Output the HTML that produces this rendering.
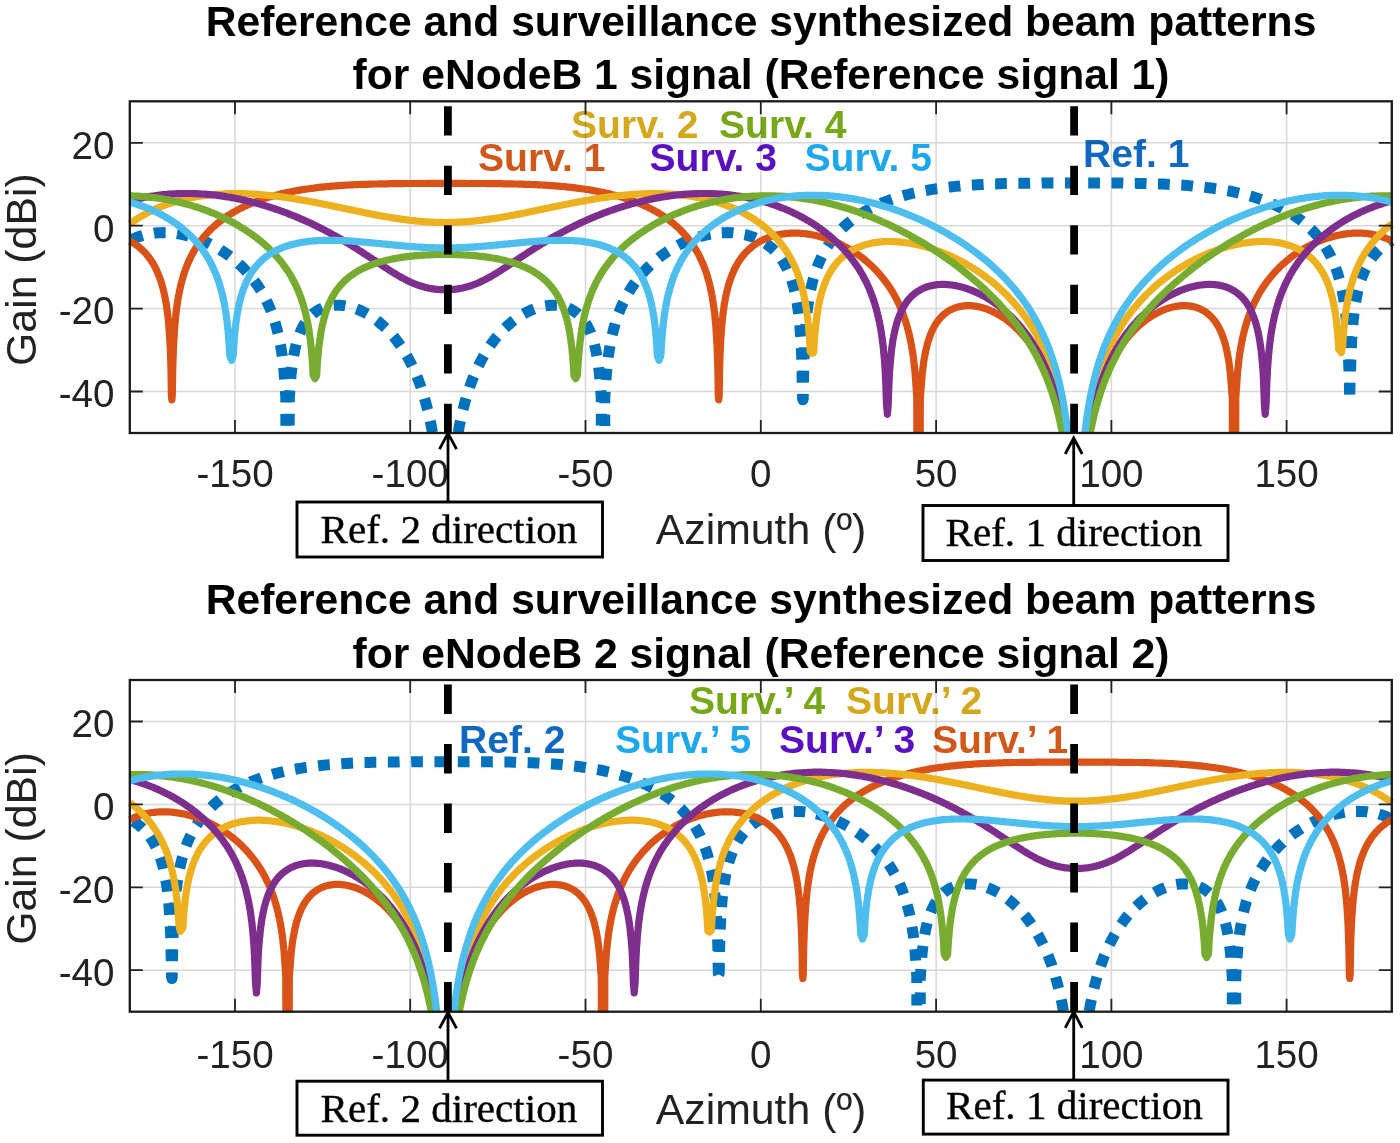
<!DOCTYPE html>
<html lang="en"><head><meta charset="utf-8"><title>Beam patterns</title>
<style>html,body{margin:0;padding:0;background:#fff}svg{display:block}</style></head>
<body>
<svg width="1400" height="1143" viewBox="0 0 1400 1143">
<rect width="100%" height="100%" fill="#fff"/>
<defs>
<clipPath id="cp0"><rect x="126.80000000000001" y="98.3" width="1268.0" height="335.7"/></clipPath>
<clipPath id="cp1"><rect x="126.80000000000001" y="677.0" width="1268.0" height="335.7"/></clipPath>
</defs>
<text x="571" y="137.5" font-family='"Liberation Sans", sans-serif' font-weight="700" font-size="39.1" fill="#D4A71C">Surv. 2</text>
<text x="719" y="137.5" font-family='"Liberation Sans", sans-serif' font-weight="700" font-size="39.1" fill="#77A81A">Surv. 4</text>
<text x="478" y="171" font-family='"Liberation Sans", sans-serif' font-weight="700" font-size="39.1" fill="#D2571A">Surv. 1</text>
<text x="649.5" y="171" font-family='"Liberation Sans", sans-serif' font-weight="700" font-size="39.1" fill="#5A10C0">Surv. 3</text>
<text x="804.5" y="171" font-family='"Liberation Sans", sans-serif' font-weight="700" font-size="39.1" fill="#1DA8EE">Surv. 5</text>
<text x="1083" y="167" font-family='"Liberation Sans", sans-serif' font-weight="700" font-size="39.1" fill="#1068C0">Ref. 1</text>
<text x="689" y="714" font-family='"Liberation Sans", sans-serif' font-weight="700" font-size="39.1" fill="#77A81A">Surv.’ 4</text>
<text x="846" y="714" font-family='"Liberation Sans", sans-serif' font-weight="700" font-size="39.1" fill="#D4A71C">Surv.’ 2</text>
<text x="459" y="753" font-family='"Liberation Sans", sans-serif' font-weight="700" font-size="39.1" fill="#1068C0">Ref. 2</text>
<text x="615" y="753" font-family='"Liberation Sans", sans-serif' font-weight="700" font-size="39.1" fill="#1DA8EE">Surv.’ 5</text>
<text x="779" y="753" font-family='"Liberation Sans", sans-serif' font-weight="700" font-size="39.1" fill="#5A10C0">Surv.’ 3</text>
<text x="932" y="753" font-family='"Liberation Sans", sans-serif' font-weight="700" font-size="39.1" fill="#D2571A">Surv.’ 1</text>
<text x="761" y="35.9" text-anchor="middle" font-family='"Liberation Sans", sans-serif' font-weight="700" font-size="42.62" fill="#000">Reference and surveillance synthesized beam patterns</text>
<text x="761" y="89.2" text-anchor="middle" font-family='"Liberation Sans", sans-serif' font-weight="700" font-size="42.62" fill="#000">for eNodeB 1 signal (Reference signal 1)</text>
<path d="M235.0,101.3V433.0M410.2,101.3V433.0M585.5,101.3V433.0M760.8,101.3V433.0M936.1,101.3V433.0M1111.4,101.3V433.0M1286.6,101.3V433.0M129.8,142.8H1391.8M129.8,225.7H1391.8M129.8,308.6H1391.8M129.8,391.5H1391.8" stroke="#d8d8d8" stroke-width="1.5" fill="none" style="mix-blend-mode:multiply"/>
<g clip-path="url(#cp0)" fill="none" stroke-linejoin="round" stroke-linecap="butt">
<path d="M287.6,464.5 285.9,464.5 285.8,397.2 284,371.5 282.3,356.2 280.5,345.2 278.8,336.5 277,329.3 275.3,323.1 273.5,317.7 271.8,312.9 270,308.5 268.3,304.5 266.5,300.8 264.8,297.4 263,294.2 261.3,291.2 259.5,288.4 257.8,285.7 256,283.2 254.2,280.8 252.5,278.5 250.7,276.3 249,274.3 247.2,272.3 245.5,270.4 243.7,268.5 242,266.8 240.2,265.1 238.5,263.5 236.7,261.9 235,260.4 233.2,259 231.5,257.6 229.7,256.2 228,254.9 226.2,253.7 224.4,252.5 222.7,251.3 220.9,250.2 219.2,249.1 217.4,248.1 215.7,247.1 213.9,246.1 212.2,245.2 210.4,244.3 208.7,243.4 206.9,242.6 205.2,241.8 203.4,241.1 201.7,240.4 199.9,239.7 198.2,239 196.4,238.4 194.7,237.8 192.9,237.3 191.1,236.7 189.4,236.2 187.6,235.8 185.9,235.4 184.1,235 182.4,234.6 180.6,234.2 178.9,233.9 177.1,233.7 175.4,233.4 173.6,233.2 171.9,233 170.1,232.9 168.4,232.8 166.6,232.7 164.9,232.7 163.1,232.6 161.4,232.7 159.6,232.7 157.8,232.8 156.1,233 154.3,233.1 152.6,233.4 150.8,233.6 149.1,233.9 147.3,234.3 145.6,234.6 143.8,235.1 142.1,235.6 140.3,236.1 138.6,236.7 136.8,237.3 135.1,238 133.3,238.8 131.6,239.6 129.8,240.5" stroke="#0072BD" stroke-width="11" stroke-dasharray="11.70 11.50" stroke-dashoffset="5.85"/>
<path d="M287.6,464.5 289.2,464.5 289.3,398.6 291.1,374.4 292.8,360.6 294.6,351 296.3,343.8 298.1,338 299.8,333.3 301.6,329.4 303.3,326 305.1,323.1 306.8,320.6 308.6,318.3 310.3,316.4 312.1,314.7 313.8,313.2 315.6,311.8 317.3,310.7 319.1,309.6 320.9,308.8 322.6,308 324.4,307.3 326.1,306.7 327.9,306.3 329.6,305.9 331.4,305.6 333.1,305.4 334.9,305.3 336.6,305.2 338.4,305.2 340.1,305.3 341.9,305.4 343.6,305.6 345.4,305.9 347.1,306.2 348.9,306.6 350.6,307 352.4,307.5 354.2,308.1 355.9,308.7 357.7,309.4 359.4,310.1 361.2,310.9 362.9,311.7 364.7,312.6 366.4,313.6 368.2,314.6 369.9,315.6 371.7,316.8 373.4,318 375.2,319.2 376.9,320.5 378.7,321.9 380.4,323.4 382.2,324.9 384,326.5 385.7,328.1 387.5,329.9 389.2,331.7 391,333.6 392.7,335.6 394.5,337.7 396.2,339.9 398,342.2 399.7,344.6 401.5,347.2 403.2,349.8 405,352.6 406.7,355.6 408.5,358.7 410.2,362 412,365.5 413.8,369.2 415.5,373.1 417.3,377.3 419,381.8 420.8,386.6 422.5,391.8 424.3,397.4 426,403.5 427.8,410.3 429.5,417.8 431.3,426.2 433,435.7 434.8,446.8 436.5,459.8 437,464.5 445.3,464.5" stroke="#0072BD" stroke-width="11" stroke-dasharray="11.74 11.54" stroke-dashoffset="5.87"/>
<path d="M445.3,464.5 453.6,464.5 454.1,459.8 455.8,446.8 457.6,435.7 459.3,426.2 461.1,417.8 462.8,410.3 464.6,403.5 466.3,397.4 468.1,391.8 469.8,386.6 471.6,381.8 473.3,377.3 475.1,373.1 476.8,369.2 478.6,365.5 480.4,362 482.1,358.7 483.9,355.6 485.6,352.6 487.4,349.8 489.1,347.2 490.9,344.6 492.6,342.2 494.4,339.9 496.1,337.7 497.9,335.6 499.6,333.6 501.4,331.7 503.1,329.9 504.9,328.1 506.6,326.5 508.4,324.9 510.2,323.4 511.9,321.9 513.7,320.5 515.4,319.2 517.2,318 518.9,316.8 520.7,315.6 522.4,314.6 524.2,313.6 525.9,312.6 527.7,311.7 529.4,310.9 531.2,310.1 532.9,309.4 534.7,308.7 536.4,308.1 538.2,307.5 540,307 541.7,306.6 543.5,306.2 545.2,305.9 547,305.6 548.7,305.4 550.5,305.3 552.2,305.2 554,305.2 555.7,305.3 557.5,305.4 559.2,305.6 561,305.9 562.7,306.3 564.5,306.7 566.2,307.3 568,308 569.7,308.8 571.5,309.6 573.3,310.7 575,311.8 576.8,313.2 578.5,314.7 580.3,316.4 582,318.3 583.8,320.6 585.5,323.1 587.3,326 589,329.4 590.8,333.3 592.5,338 594.3,343.8 596,351 597.8,360.6 599.5,374.4 601.3,398.6 601.4,464.5 603,464.5" stroke="#0072BD" stroke-width="11" stroke-dasharray="11.74 11.54" stroke-dashoffset="5.87"/>
<path d="M603,464.5 604.7,464.5 604.8,397.2 606.6,371.5 608.3,356.2 610.1,345.2 611.8,336.5 613.6,329.3 615.3,323.1 617.1,317.7 618.8,312.9 620.6,308.5 622.3,304.5 624.1,300.8 625.8,297.4 627.6,294.2 629.3,291.2 631.1,288.4 632.8,285.7 634.6,283.2 636.4,280.8 638.1,278.5 639.9,276.3 641.6,274.3 643.4,272.3 645.1,270.4 646.9,268.5 648.6,266.8 650.4,265.1 652.1,263.5 653.9,261.9 655.6,260.4 657.4,259 659.1,257.6 660.9,256.2 662.6,254.9 664.4,253.7 666.2,252.5 667.9,251.3 669.7,250.2 671.4,249.1 673.2,248.1 674.9,247.1 676.7,246.1 678.4,245.2 680.2,244.3 681.9,243.4 683.7,242.6 685.4,241.8 687.2,241.1 688.9,240.4 690.7,239.7 692.4,239 694.2,238.4 695.9,237.8 697.7,237.3 699.5,236.7 701.2,236.2 703,235.8 704.7,235.4 706.5,235 708.2,234.6 710,234.2 711.7,233.9 713.5,233.7 715.2,233.4 717,233.2 718.7,233 720.5,232.9 722.2,232.8 724,232.7 725.7,232.7 727.5,232.6 729.2,232.7 731,232.7 732.8,232.8 734.5,233 736.3,233.1 738,233.4 739.8,233.6 741.5,233.9 743.3,234.3 745,234.6 746.8,235.1 748.5,235.6 750.3,236.1 752,236.7 753.8,237.3 755.5,238 757.3,238.8 759,239.6 760.8,240.5 762.6,241.5 764.3,242.5 766.1,243.7 767.8,244.9 769.6,246.3 771.3,247.7 773.1,249.3 774.8,251 776.6,252.9 778.3,254.9 780.1,257.1 781.8,259.6 783.6,262.3 785.3,265.3 787.1,268.7 788.8,272.6 790.6,277 792.3,282.2 794.1,288.4 794.5,290.2 795,292.1 795.4,294 795.9,296.1 796.3,298.4 796.7,300.8 797.2,303.4 797.6,306.2 798,309.2 798.5,312.6 798.9,316.3 799.4,320.4 799.8,325.2 800.2,330.7 800.7,337.1 801.1,345.1 801.6,355.4 802,369.9 802.4,394.8 802.9,399.8" stroke="#0072BD" stroke-width="11" stroke-dasharray="11.57 11.38" stroke-dashoffset="5.79"/>
<path d="M802.9,399.8 803.3,394.7 803.7,369.6 804.2,354.9 804.6,344.5 805.1,336.4 805.5,329.8 805.9,324.1 806.4,319.3 806.8,315 807.2,311.1 807.7,307.6 808.1,304.4 808.6,301.5 809,298.7 809.4,296.2 809.9,293.8 810.3,291.5 810.8,289.4 811.2,287.4 811.6,285.5 813.4,278.7 815.1,272.9 816.9,267.9 818.6,263.4 820.4,259.4 822.1,255.8 823.9,252.5 825.7,249.4 827.4,246.6 829.2,243.9 830.9,241.5 832.7,239.1 834.4,236.9 836.2,234.9 837.9,232.9 839.7,231 841.4,229.3 843.2,227.6 844.9,225.9 846.7,224.4 848.4,222.9 850.2,221.5 851.9,220.1 853.7,218.8 855.4,217.6 857.2,216.4 859,215.2 860.7,214.1 862.5,213 864.2,211.9 866,210.9 867.7,209.9 869.5,209 871.2,208.1 873,207.2 874.7,206.4 876.5,205.5 878.2,204.7 880,204 881.7,203.2 883.5,202.5 885.2,201.8 887,201.1 888.8,200.5 890.5,199.8 892.3,199.2 894,198.6 895.8,198 897.5,197.5 899.3,196.9 901,196.4 902.8,195.9 904.5,195.4 906.3,194.9 908,194.5 909.8,194 911.5,193.6 913.3,193.2 915,192.8 916.8,192.4 918.6,192 920.3,191.6 922.1,191.3 923.8,190.9 925.6,190.6 927.3,190.3 929.1,190 930.8,189.7 932.6,189.4 934.3,189.1 936.1,188.8 937.8,188.6 939.6,188.3 941.3,188.1 943.1,187.8 944.8,187.6 946.6,187.4 948.3,187.2 950.1,187 951.9,186.8 953.6,186.6 955.4,186.4 957.1,186.2 958.9,186.1 960.6,185.9 962.4,185.8 964.1,185.6 965.9,185.5 967.6,185.3 969.4,185.2 971.1,185.1 972.9,185 974.6,184.9 976.4,184.8 978.1,184.7 979.9,184.6 981.6,184.5 983.4,184.4 985.2,184.3 986.9,184.2 988.7,184.1 990.4,184.1 992.2,184 993.9,183.9 995.7,183.9 997.4,183.8 999.2,183.7 1000.9,183.7 1002.7,183.6 1004.4,183.6 1006.2,183.5 1007.9,183.5 1009.7,183.5 1011.4,183.4 1013.2,183.4 1015,183.4 1016.7,183.3 1018.5,183.3 1020.2,183.3 1022,183.2 1023.7,183.2 1025.5,183.2 1027.2,183.2 1029,183.2 1030.7,183.1 1032.5,183.1 1034.2,183.1 1036,183.1 1037.7,183.1 1039.5,183.1 1041.2,183.1 1043,183 1044.8,183 1046.5,183 1048.3,183 1050,183 1051.8,183 1053.5,183 1055.3,183 1057,183 1058.8,183 1060.5,183 1062.3,183 1064,183 1065.8,183 1067.5,183 1069.3,183 1071,183 1072.8,183 1074.5,183 1076.3,183 1078.1,183 1079.8,183 1081.6,183 1083.3,183 1085.1,183 1086.8,183 1088.6,183 1090.3,183 1092.1,183 1093.8,183 1095.6,183 1097.3,183 1099.1,183 1100.8,183 1102.6,183 1104.3,183 1106.1,183 1107.8,183 1109.6,183 1111.4,183.1 1113.1,183.1 1114.9,183.1 1116.6,183.1 1118.4,183.1 1120.1,183.1 1121.9,183.1 1123.6,183.2 1125.4,183.2 1127.1,183.2 1128.9,183.2 1130.6,183.2 1132.4,183.3 1134.1,183.3 1135.9,183.3 1137.6,183.4 1139.4,183.4 1141.2,183.4 1142.9,183.5 1144.7,183.5 1146.4,183.5 1148.2,183.6 1149.9,183.6 1151.7,183.7 1153.4,183.7 1155.2,183.8 1156.9,183.9 1158.7,183.9 1160.4,184 1162.2,184.1 1163.9,184.1 1165.7,184.2 1167.4,184.3 1169.2,184.4 1171,184.5 1172.7,184.6 1174.5,184.7 1176.2,184.8 1178,184.9 1179.7,185 1181.5,185.1 1183.2,185.2 1185,185.3 1186.7,185.5 1188.5,185.6 1190.2,185.8 1192,185.9 1193.7,186.1 1195.5,186.2 1197.2,186.4 1199,186.6 1200.7,186.8 1202.5,187 1204.3,187.2 1206,187.4 1207.8,187.6 1209.5,187.8 1211.3,188.1 1213,188.3 1214.8,188.6 1216.5,188.8 1218.3,189.1 1220,189.4 1221.8,189.7 1223.5,190 1225.3,190.3 1227,190.6 1228.8,190.9 1230.5,191.3 1232.3,191.6 1234,192 1235.8,192.4 1237.6,192.8 1239.3,193.2 1241.1,193.6 1242.8,194 1244.6,194.5 1246.3,194.9 1248.1,195.4 1249.8,195.9 1251.6,196.4 1253.3,196.9 1255.1,197.5 1256.8,198 1258.6,198.6 1260.3,199.2 1262.1,199.8 1263.8,200.5 1265.6,201.1 1267.4,201.8 1269.1,202.5 1270.9,203.2 1272.6,204 1274.4,204.7 1276.1,205.5 1277.9,206.4 1279.6,207.2 1281.4,208.1 1283.1,209 1284.9,209.9 1286.6,210.9 1288.4,211.9 1290.1,213 1291.9,214.1 1293.6,215.2 1295.4,216.4 1297.1,217.6 1298.9,218.8 1300.7,220.1 1302.4,221.5 1304.2,222.9 1305.9,224.4 1307.7,225.9 1309.4,227.6 1311.2,229.3 1312.9,231 1314.7,232.9 1316.4,234.9 1318.2,236.9 1319.9,239.1 1321.7,241.5 1323.4,243.9 1325.2,246.6 1326.9,249.4 1328.7,252.5 1330.5,255.8 1332.2,259.4 1334,263.4 1335.7,267.9 1337.5,272.9 1339.2,278.7 1341,285.5 1341.4,287.4 1341.8,289.4 1342.3,291.5 1342.7,293.8 1343.2,296.2 1343.6,298.7 1344,301.5 1344.5,304.4 1344.9,307.6 1345.4,311.1 1345.8,315 1346.2,319.3 1346.7,324.1 1347.1,329.8 1347.5,336.4 1348,344.5 1348.4,354.9 1348.9,369.6 1349.7,394.4" stroke="#0072BD" stroke-width="11" stroke-dasharray="11.74 11.54" stroke-dashoffset="5.87"/>
<path d="M1349.7,394.4 1350.6,369.9 1351,355.4 1351.5,345.1 1351.9,337.1 1352.4,330.7 1352.8,325.2 1353.2,320.4 1353.7,316.3 1354.1,312.6 1354.6,309.2 1355,306.2 1355.4,303.4 1355.9,300.8 1356.3,298.4 1356.7,296.1 1357.2,294 1357.6,292.1 1358.1,290.2 1358.5,288.4 1360.2,282.2 1362,277 1363.8,272.6 1365.5,268.7 1367.3,265.3 1369,262.3 1370.8,259.6 1372.5,257.1 1374.3,254.9 1376,252.9 1377.8,251 1379.5,249.3 1381.3,247.7 1383,246.3 1384.8,244.9 1386.5,243.7 1388.3,242.5 1390,241.5 1391.8,240.5" stroke="#0072BD" stroke-width="11" stroke-dasharray="11.70 11.50" stroke-dashoffset="0.00"/>
<circle cx="802.9" cy="399.8" r="5.5" fill="#0072BD" stroke="none"/>
<path d="M129.8,241 131.6,241.9 133.3,243 135.1,244.1 136.8,245.4 138.6,246.7 140.3,248.2 142.1,249.8 143.8,251.5 145.6,253.3 147.3,255.4 149.1,257.6 150.8,260 152.6,262.8 154.3,265.8 156.1,269.2 157.8,273.1 159.6,277.5 161.4,282.7 163.1,288.9 163.5,290.7 164,292.5 164.4,294.5 164.9,296.6 165.3,298.8 165.7,301.2 166.2,303.8 166.6,306.6 167,309.7 167.5,313 167.9,316.7 168.4,320.9 168.8,325.6 169.2,331.1 169.7,337.6 170.1,345.6 170.6,355.8 171,370.4 171.4,395.3 171.9,399.8 172.3,395.1 172.7,370.1 173.2,355.4 173.6,345 174.1,336.9 174.5,330.2 174.9,324.6 175.4,319.7 175.8,315.4 176.2,311.6 176.7,308.1 177.1,304.9 177.6,301.9 178,299.2 178.4,296.6 178.9,294.2 179.3,292 179.8,289.9 180.2,287.9 180.6,285.9 182.4,279.1 184.1,273.4 185.9,268.3 187.6,263.9 189.4,259.9 191.1,256.2 192.9,252.9 194.7,249.9 196.4,247 198.2,244.4 199.9,241.9 201.7,239.6 203.4,237.4 205.2,235.3 206.9,233.4 208.7,231.5 210.4,229.7 212.2,228 213.9,226.4 215.7,224.9 217.4,223.4 219.2,222 220.9,220.6 222.7,219.3 224.4,218 226.2,216.8 228,215.6 229.7,214.5 231.5,213.4 233.2,212.4 235,211.4 236.7,210.4 238.5,209.5 240.2,208.5 242,207.7 243.7,206.8 245.5,206 247.2,205.2 249,204.4 250.7,203.7 252.5,203 254.2,202.3 256,201.6 257.8,200.9 259.5,200.3 261.3,199.7 263,199.1 264.8,198.5 266.5,197.9 268.3,197.4 270,196.9 271.8,196.4 273.5,195.9 275.3,195.4 277,194.9 278.8,194.5 280.5,194 282.3,193.6 284,193.2 285.8,192.8 287.6,192.4 289.3,192.1 291.1,191.7 292.8,191.4 294.6,191 296.3,190.7 298.1,190.4 299.8,190.1 301.6,189.8 303.3,189.5 305.1,189.3 306.8,189 308.6,188.8 310.3,188.5 312.1,188.3 313.8,188.1 315.6,187.8 317.3,187.6 319.1,187.4 320.9,187.2 322.6,187.1 324.4,186.9 326.1,186.7 327.9,186.5 329.6,186.4 331.4,186.2 333.1,186.1 334.9,185.9 336.6,185.8 338.4,185.7 340.1,185.6 341.9,185.4 343.6,185.3 345.4,185.2 347.1,185.1 348.9,185 350.6,184.9 352.4,184.8 354.2,184.7 355.9,184.7 357.7,184.6 359.4,184.5 361.2,184.4 362.9,184.4 364.7,184.3 366.4,184.3 368.2,184.2 369.9,184.1 371.7,184.1 373.4,184 375.2,184 376.9,184 378.7,183.9 380.4,183.9 382.2,183.8 384,183.8 385.7,183.8 387.5,183.8 389.2,183.7 391,183.7 392.7,183.7 394.5,183.7 396.2,183.6 398,183.6 399.7,183.6 401.5,183.6 403.2,183.6 405,183.5 406.7,183.5 408.5,183.5 410.2,183.5 412,183.5 413.8,183.5 415.5,183.5 417.3,183.5 419,183.5 420.8,183.5 422.5,183.5 424.3,183.5 426,183.4 427.8,183.4 429.5,183.4 431.3,183.4 433,183.4 434.8,183.4 436.5,183.4 438.3,183.4 440,183.4 441.8,183.4 443.5,183.4 445.3,183.4 447.1,183.4 448.8,183.4 450.6,183.4 452.3,183.4 454.1,183.4 455.8,183.4 457.6,183.4 459.3,183.4 461.1,183.4 462.8,183.4 464.6,183.4 466.3,183.5 468.1,183.5 469.8,183.5 471.6,183.5 473.3,183.5 475.1,183.5 476.8,183.5 478.6,183.5 480.4,183.5 482.1,183.5 483.9,183.5 485.6,183.5 487.4,183.6 489.1,183.6 490.9,183.6 492.6,183.6 494.4,183.6 496.1,183.7 497.9,183.7 499.6,183.7 501.4,183.7 503.1,183.8 504.9,183.8 506.6,183.8 508.4,183.8 510.2,183.9 511.9,183.9 513.7,184 515.4,184 517.2,184 518.9,184.1 520.7,184.1 522.4,184.2 524.2,184.3 525.9,184.3 527.7,184.4 529.4,184.4 531.2,184.5 532.9,184.6 534.7,184.7 536.4,184.7 538.2,184.8 540,184.9 541.7,185 543.5,185.1 545.2,185.2 547,185.3 548.7,185.4 550.5,185.6 552.2,185.7 554,185.8 555.7,185.9 557.5,186.1 559.2,186.2 561,186.4 562.7,186.5 564.5,186.7 566.2,186.9 568,187.1 569.7,187.2 571.5,187.4 573.3,187.6 575,187.8 576.8,188.1 578.5,188.3 580.3,188.5 582,188.8 583.8,189 585.5,189.3 587.3,189.5 589,189.8 590.8,190.1 592.5,190.4 594.3,190.7 596,191 597.8,191.4 599.5,191.7 601.3,192.1 603,192.4 604.8,192.8 606.6,193.2 608.3,193.6 610.1,194 611.8,194.5 613.6,194.9 615.3,195.4 617.1,195.9 618.8,196.4 620.6,196.9 622.3,197.4 624.1,197.9 625.8,198.5 627.6,199.1 629.3,199.7 631.1,200.3 632.8,200.9 634.6,201.6 636.4,202.3 638.1,203 639.9,203.7 641.6,204.4 643.4,205.2 645.1,206 646.9,206.8 648.6,207.7 650.4,208.5 652.1,209.5 653.9,210.4 655.6,211.4 657.4,212.4 659.1,213.4 660.9,214.5 662.6,215.6 664.4,216.8 666.2,218 667.9,219.3 669.7,220.6 671.4,222 673.2,223.4 674.9,224.9 676.7,226.4 678.4,228 680.2,229.7 681.9,231.5 683.7,233.4 685.4,235.3 687.2,237.4 688.9,239.6 690.7,241.9 692.4,244.4 694.2,247 695.9,249.9 697.7,252.9 699.5,256.2 701.2,259.9 703,263.9 704.7,268.3 706.5,273.4 708.2,279.1 710,285.9 710.4,287.9 710.8,289.9 711.3,292 711.7,294.2 712.2,296.6 712.6,299.2 713,301.9 713.5,304.9 713.9,308.1 714.4,311.6 714.8,315.4 715.2,319.7 715.7,324.6 716.1,330.2 716.5,336.9 717,345 717.4,355.4 717.9,370.1 718.3,395.1 718.7,399.8 719.2,395.3 719.6,370.4 720,355.8 720.5,345.6 720.9,337.6 721.4,331.1 721.8,325.6 722.2,320.9 722.7,316.7 723.1,313 723.6,309.7 724,306.6 724.4,303.8 724.9,301.2 725.3,298.8 725.7,296.6 726.2,294.5 726.6,292.5 727.1,290.7 727.5,288.9 729.2,282.7 731,277.5 732.8,273.1 734.5,269.2 736.3,265.8 738,262.8 739.8,260 741.5,257.6 743.3,255.4 745,253.3 746.8,251.5 748.5,249.8 750.3,248.2 752,246.7 753.8,245.4 755.5,244.1 757.3,243 759,241.9 760.8,241 762.6,240.1 764.3,239.2 766.1,238.5 767.8,237.8 769.6,237.1 771.3,236.5 773.1,236 774.8,235.5 776.6,235.1 778.3,234.7 780.1,234.4 781.8,234.1 783.6,233.8 785.3,233.6 787.1,233.4 788.8,233.3 790.6,233.2 792.3,233.1 794.1,233.1 795.9,233.1 797.6,233.2 799.4,233.2 801.1,233.3 802.9,233.5 804.6,233.7 806.4,233.9 808.1,234.1 809.9,234.4 811.6,234.7 813.4,235 815.1,235.4 816.9,235.8 818.6,236.2 820.4,236.7 822.1,237.2 823.9,237.7 825.7,238.3 827.4,238.9 829.2,239.5 830.9,240.1 832.7,240.8 834.4,241.5 836.2,242.3 837.9,243.1 839.7,243.9 841.4,244.7 843.2,245.6 844.9,246.6 846.7,247.5 848.4,248.5 850.2,249.6 851.9,250.6 853.7,251.8 855.4,252.9 857.2,254.1 859,255.4 860.7,256.7 862.5,258 864.2,259.4 866,260.9 867.7,262.4 869.5,263.9 871.2,265.5 873,267.2 874.7,269 876.5,270.8 878.2,272.7 880,274.7 881.7,276.8 883.5,279 885.2,281.2 887,283.6 888.8,286.2 890.5,288.8 892.3,291.6 894,294.6 895.8,297.8 897.5,301.2 899.3,304.9 901,308.9 902.8,313.3 904.5,318.1 906.3,323.6 908,329.7 909.8,337 911.5,345.6 913.3,356.7 915,372 916.8,397.6 916.9,464.5 918.6,464.5 920.2,464.5 920.3,399.1 922.1,374.9 923.8,361.1 925.6,351.5 927.3,344.2 929.1,338.5 930.8,333.8 932.6,329.8 934.3,326.4 936.1,323.5 937.8,321 939.6,318.8 941.3,316.9 943.1,315.1 944.8,313.6 946.6,312.3 948.3,311.1 950.1,310.1 951.9,309.2 953.6,308.4 955.4,307.8 957.1,307.2 958.9,306.7 960.6,306.4 962.4,306.1 964.1,305.9 965.9,305.7 967.6,305.7 969.4,305.7 971.1,305.7 972.9,305.9 974.6,306.1 976.4,306.3 978.1,306.7 979.9,307.1 981.6,307.5 983.4,308 985.2,308.5 986.9,309.2 988.7,309.8 990.4,310.6 992.2,311.3 993.9,312.2 995.7,313.1 997.4,314 999.2,315 1000.9,316.1 1002.7,317.2 1004.4,318.4 1006.2,319.7 1007.9,321 1009.7,322.4 1011.4,323.8 1013.2,325.3 1015,326.9 1016.7,328.6 1018.5,330.3 1020.2,332.2 1022,334.1 1023.7,336.1 1025.5,338.2 1027.2,340.4 1029,342.7 1030.7,345.1 1032.5,347.6 1034.2,350.3 1036,353.1 1037.7,356 1039.5,359.2 1041.2,362.4 1043,365.9 1044.8,369.6 1046.5,373.5 1048.3,377.7 1050,382.2 1051.8,387 1053.5,392.2 1055.3,397.9 1057,404 1058.8,410.8 1060.5,418.2 1062.3,426.6 1064,436.2 1065.8,447.2 1067.5,460.3 1068,464.5 1076.3,464.5 1084.6,464.5 1085.1,460.3 1086.8,447.2 1088.6,436.2 1090.3,426.6 1092.1,418.2 1093.8,410.8 1095.6,404 1097.3,397.9 1099.1,392.2 1100.8,387 1102.6,382.2 1104.3,377.7 1106.1,373.5 1107.8,369.6 1109.6,365.9 1111.4,362.4 1113.1,359.2 1114.9,356 1116.6,353.1 1118.4,350.3 1120.1,347.6 1121.9,345.1 1123.6,342.7 1125.4,340.4 1127.1,338.2 1128.9,336.1 1130.6,334.1 1132.4,332.2 1134.1,330.3 1135.9,328.6 1137.6,326.9 1139.4,325.3 1141.2,323.8 1142.9,322.4 1144.7,321 1146.4,319.7 1148.2,318.4 1149.9,317.2 1151.7,316.1 1153.4,315 1155.2,314 1156.9,313.1 1158.7,312.2 1160.4,311.3 1162.2,310.6 1163.9,309.8 1165.7,309.2 1167.4,308.5 1169.2,308 1171,307.5 1172.7,307.1 1174.5,306.7 1176.2,306.3 1178,306.1 1179.7,305.9 1181.5,305.7 1183.2,305.7 1185,305.7 1186.7,305.7 1188.5,305.9 1190.2,306.1 1192,306.4 1193.7,306.7 1195.5,307.2 1197.2,307.8 1199,308.4 1200.7,309.2 1202.5,310.1 1204.3,311.1 1206,312.3 1207.8,313.6 1209.5,315.1 1211.3,316.9 1213,318.8 1214.8,321 1216.5,323.5 1218.3,326.4 1220,329.8 1221.8,333.8 1223.5,338.5 1225.3,344.2 1227,351.5 1228.8,361.1 1230.5,374.9 1232.3,399.1 1232.4,464.5 1234,464.5 1235.7,464.5 1235.8,397.6 1237.6,372 1239.3,356.7 1241.1,345.6 1242.8,337 1244.6,329.7 1246.3,323.6 1248.1,318.1 1249.8,313.3 1251.6,308.9 1253.3,304.9 1255.1,301.2 1256.8,297.8 1258.6,294.6 1260.3,291.6 1262.1,288.8 1263.8,286.2 1265.6,283.6 1267.4,281.2 1269.1,279 1270.9,276.8 1272.6,274.7 1274.4,272.7 1276.1,270.8 1277.9,269 1279.6,267.2 1281.4,265.5 1283.1,263.9 1284.9,262.4 1286.6,260.9 1288.4,259.4 1290.1,258 1291.9,256.7 1293.6,255.4 1295.4,254.1 1297.1,252.9 1298.9,251.8 1300.7,250.6 1302.4,249.6 1304.2,248.5 1305.9,247.5 1307.7,246.6 1309.4,245.6 1311.2,244.7 1312.9,243.9 1314.7,243.1 1316.4,242.3 1318.2,241.5 1319.9,240.8 1321.7,240.1 1323.4,239.5 1325.2,238.9 1326.9,238.3 1328.7,237.7 1330.5,237.2 1332.2,236.7 1334,236.2 1335.7,235.8 1337.5,235.4 1339.2,235 1341,234.7 1342.7,234.4 1344.5,234.1 1346.2,233.9 1348,233.7 1349.7,233.5 1351.5,233.3 1353.2,233.2 1355,233.2 1356.7,233.1 1358.5,233.1 1360.2,233.1 1362,233.2 1363.8,233.3 1365.5,233.4 1367.3,233.6 1369,233.8 1370.8,234.1 1372.5,234.4 1374.3,234.7 1376,235.1 1377.8,235.5 1379.5,236 1381.3,236.5 1383,237.1 1384.8,237.8 1386.5,238.5 1388.3,239.2 1390,240.1 1391.8,241" stroke="#D95319" stroke-width="7.2"/>
<path d="M129.8,223.9 131.6,222.6 133.3,221.4 135.1,220.2 136.8,219 138.6,217.9 140.3,216.8 142.1,215.8 143.8,214.8 145.6,213.8 147.3,212.9 149.1,212 150.8,211.1 152.6,210.2 154.3,209.4 156.1,208.6 157.8,207.9 159.6,207.2 161.4,206.5 163.1,205.8 164.9,205.1 166.6,204.5 168.4,203.9 170.1,203.3 171.9,202.7 173.6,202.2 175.4,201.6 177.1,201.1 178.9,200.7 180.6,200.2 182.4,199.7 184.1,199.3 185.9,198.9 187.6,198.5 189.4,198.1 191.1,197.8 192.9,197.4 194.7,197.1 196.4,196.8 198.2,196.5 199.9,196.2 201.7,196 203.4,195.7 205.2,195.5 206.9,195.3 208.7,195.1 210.4,194.9 212.2,194.7 213.9,194.6 215.7,194.4 217.4,194.3 219.2,194.2 220.9,194.1 222.7,194 224.4,193.9 226.2,193.8 228,193.7 229.7,193.7 231.5,193.7 233.2,193.6 235,193.6 236.7,193.6 238.5,193.6 240.2,193.7 242,193.7 243.7,193.7 245.5,193.8 247.2,193.8 249,193.9 250.7,194 252.5,194.1 254.2,194.2 256,194.3 257.8,194.4 259.5,194.5 261.3,194.7 263,194.8 264.8,195 266.5,195.2 268.3,195.3 270,195.5 271.8,195.7 273.5,195.9 275.3,196.1 277,196.3 278.8,196.5 280.5,196.7 282.3,197 284,197.2 285.8,197.5 287.6,197.7 289.3,198 291.1,198.2 292.8,198.5 294.6,198.8 296.3,199.1 298.1,199.4 299.8,199.7 301.6,200 303.3,200.3 305.1,200.6 306.8,200.9 308.6,201.2 310.3,201.5 312.1,201.9 313.8,202.2 315.6,202.5 317.3,202.9 319.1,203.2 320.9,203.6 322.6,203.9 324.4,204.3 326.1,204.6 327.9,205 329.6,205.3 331.4,205.7 333.1,206.1 334.9,206.4 336.6,206.8 338.4,207.2 340.1,207.5 341.9,207.9 343.6,208.3 345.4,208.6 347.1,209 348.9,209.4 350.6,209.7 352.4,210.1 354.2,210.5 355.9,210.8 357.7,211.2 359.4,211.6 361.2,211.9 362.9,212.3 364.7,212.7 366.4,213 368.2,213.4 369.9,213.7 371.7,214.1 373.4,214.4 375.2,214.7 376.9,215.1 378.7,215.4 380.4,215.7 382.2,216.1 384,216.4 385.7,216.7 387.5,217 389.2,217.3 391,217.6 392.7,217.9 394.5,218.1 396.2,218.4 398,218.7 399.7,218.9 401.5,219.2 403.2,219.4 405,219.7 406.7,219.9 408.5,220.1 410.2,220.3 412,220.5 413.8,220.7 415.5,220.9 417.3,221.1 419,221.2 420.8,221.4 422.5,221.5 424.3,221.7 426,221.8 427.8,221.9 429.5,222 431.3,222.1 433,222.2 434.8,222.3 436.5,222.3 438.3,222.4 440,222.4 441.8,222.4 443.5,222.5 445.3,222.5 447.1,222.5 448.8,222.4 450.6,222.4 452.3,222.4 454.1,222.3 455.8,222.3 457.6,222.2 459.3,222.1 461.1,222 462.8,221.9 464.6,221.8 466.3,221.7 468.1,221.5 469.8,221.4 471.6,221.2 473.3,221.1 475.1,220.9 476.8,220.7 478.6,220.5 480.4,220.3 482.1,220.1 483.9,219.9 485.6,219.7 487.4,219.4 489.1,219.2 490.9,218.9 492.6,218.7 494.4,218.4 496.1,218.1 497.9,217.9 499.6,217.6 501.4,217.3 503.1,217 504.9,216.7 506.6,216.4 508.4,216.1 510.2,215.7 511.9,215.4 513.7,215.1 515.4,214.7 517.2,214.4 518.9,214.1 520.7,213.7 522.4,213.4 524.2,213 525.9,212.7 527.7,212.3 529.4,211.9 531.2,211.6 532.9,211.2 534.7,210.8 536.4,210.5 538.2,210.1 540,209.7 541.7,209.4 543.5,209 545.2,208.6 547,208.3 548.7,207.9 550.5,207.5 552.2,207.2 554,206.8 555.7,206.4 557.5,206.1 559.2,205.7 561,205.3 562.7,205 564.5,204.6 566.2,204.3 568,203.9 569.7,203.6 571.5,203.2 573.3,202.9 575,202.5 576.8,202.2 578.5,201.9 580.3,201.5 582,201.2 583.8,200.9 585.5,200.6 587.3,200.3 589,200 590.8,199.7 592.5,199.4 594.3,199.1 596,198.8 597.8,198.5 599.5,198.2 601.3,198 603,197.7 604.8,197.5 606.6,197.2 608.3,197 610.1,196.7 611.8,196.5 613.6,196.3 615.3,196.1 617.1,195.9 618.8,195.7 620.6,195.5 622.3,195.3 624.1,195.2 625.8,195 627.6,194.8 629.3,194.7 631.1,194.5 632.8,194.4 634.6,194.3 636.4,194.2 638.1,194.1 639.9,194 641.6,193.9 643.4,193.8 645.1,193.8 646.9,193.7 648.6,193.7 650.4,193.7 652.1,193.6 653.9,193.6 655.6,193.6 657.4,193.6 659.1,193.7 660.9,193.7 662.6,193.7 664.4,193.8 666.2,193.9 667.9,194 669.7,194.1 671.4,194.2 673.2,194.3 674.9,194.4 676.7,194.6 678.4,194.7 680.2,194.9 681.9,195.1 683.7,195.3 685.4,195.5 687.2,195.7 688.9,196 690.7,196.2 692.4,196.5 694.2,196.8 695.9,197.1 697.7,197.4 699.5,197.8 701.2,198.1 703,198.5 704.7,198.9 706.5,199.3 708.2,199.7 710,200.2 711.7,200.7 713.5,201.1 715.2,201.6 717,202.2 718.7,202.7 720.5,203.3 722.2,203.9 724,204.5 725.7,205.1 727.5,205.8 729.2,206.5 731,207.2 732.8,207.9 734.5,208.6 736.3,209.4 738,210.2 739.8,211.1 741.5,212 743.3,212.9 745,213.8 746.8,214.8 748.5,215.8 750.3,216.8 752,217.9 753.8,219 755.5,220.2 757.3,221.4 759,222.6 760.8,223.9 762.6,225.3 764.3,226.7 766.1,228.1 767.8,229.7 769.6,231.3 771.3,232.9 773.1,234.7 774.8,236.5 776.6,238.4 778.3,240.4 780.1,242.5 781.8,244.7 783.6,247.1 785.3,249.6 787.1,252.3 788.8,255.2 790.6,258.2 792.3,261.6 794.1,265.2 795.9,269.2 797.6,273.6 799.4,278.6 801.1,284.3 802.9,290.9 803.2,292.4 803.7,294.3 804.1,296.4 804.5,298.5 804.6,299 805,300.8 805.4,303.2 805.8,305.7 806.3,308.5 806.4,309.1 806.7,311.5 807.2,314.7 807.6,318.2 808,322.1 808.1,322.9 808.5,326.4 808.9,331.3 809.4,336.9 809.8,343.6 809.9,345.1 810.2,351.7 812,353.4 813.7,352.5 814.2,344.5 814.6,338 815,332.6 815.1,331.6 815.5,327.9 815.9,323.7 816.4,320 816.8,316.7 816.9,316.1 817.2,313.7 817.7,310.9 818.1,308.3 818.6,305.9 818.6,305.5 819,303.7 819.4,301.6 819.9,299.7 820.3,297.8 820.4,297.5 820.7,296.1 822.1,291.1 823.9,285.8 825.7,281.3 827.4,277.4 829.2,273.9 830.9,270.9 832.7,268.2 834.4,265.8 836.2,263.5 837.9,261.5 839.7,259.7 841.4,258 843.2,256.5 844.9,255 846.7,253.7 848.4,252.5 850.2,251.4 851.9,250.4 853.7,249.4 855.4,248.5 857.2,247.7 859,247 860.7,246.3 862.5,245.7 864.2,245.1 866,244.6 867.7,244.1 869.5,243.7 871.2,243.3 873,242.9 874.7,242.6 876.5,242.4 878.2,242.1 880,242 881.7,241.8 883.5,241.7 885.2,241.6 887,241.5 888.8,241.5 890.5,241.5 892.3,241.5 894,241.6 895.8,241.7 897.5,241.8 899.3,241.9 901,242.1 902.8,242.3 904.5,242.5 906.3,242.7 908,243 909.8,243.2 911.5,243.6 913.3,243.9 915,244.2 916.8,244.6 918.6,245 920.3,245.4 922.1,245.9 923.8,246.3 925.6,246.8 927.3,247.3 929.1,247.9 930.8,248.4 932.6,249 934.3,249.6 936.1,250.2 937.8,250.8 939.6,251.5 941.3,252.1 943.1,252.8 944.8,253.6 946.6,254.3 948.3,255.1 950.1,255.8 951.9,256.6 953.6,257.5 955.4,258.3 957.1,259.2 958.9,260.1 960.6,261 962.4,261.9 964.1,262.9 965.9,263.9 967.6,264.9 969.4,265.9 971.1,267 972.9,268.1 974.6,269.2 976.4,270.3 978.1,271.5 979.9,272.7 981.6,273.9 983.4,275.2 985.2,276.4 986.9,277.8 988.7,279.1 990.4,280.5 992.2,281.9 993.9,283.3 995.7,284.8 997.4,286.3 999.2,287.9 1000.9,289.5 1002.7,291.1 1004.4,292.8 1006.2,294.5 1007.9,296.3 1009.7,298.2 1011.4,300 1013.2,302 1015,304 1016.7,306 1018.5,308.1 1020.2,310.3 1022,312.6 1023.7,314.9 1025.5,317.3 1027.2,319.8 1029,322.4 1030.7,325.1 1032.5,327.9 1034.2,330.9 1036,333.9 1037.7,337.1 1039.5,340.4 1041.2,343.9 1043,347.6 1044.8,351.5 1046.5,355.6 1048.3,360 1050,364.6 1051.8,369.6 1053.5,374.9 1055.3,380.7 1057,386.9 1058.8,393.8 1060.5,401.4 1062.3,409.9 1064,419.5 1065.8,430.6 1067.5,443.7 1069.3,459.8 1069.7,464.5 1076.3,464.5 1082.9,464.5 1083.3,459.8 1085.1,443.7 1086.8,430.6 1088.6,419.5 1090.3,409.9 1092.1,401.4 1093.8,393.8 1095.6,386.9 1097.3,380.7 1099.1,374.9 1100.8,369.6 1102.6,364.6 1104.3,360 1106.1,355.6 1107.8,351.5 1109.6,347.6 1111.4,343.9 1113.1,340.4 1114.9,337.1 1116.6,333.9 1118.4,330.9 1120.1,327.9 1121.9,325.1 1123.6,322.4 1125.4,319.8 1127.1,317.3 1128.9,314.9 1130.6,312.6 1132.4,310.3 1134.1,308.1 1135.9,306 1137.6,304 1139.4,302 1141.2,300 1142.9,298.2 1144.7,296.3 1146.4,294.5 1148.2,292.8 1149.9,291.1 1151.7,289.5 1153.4,287.9 1155.2,286.3 1156.9,284.8 1158.7,283.3 1160.4,281.9 1162.2,280.5 1163.9,279.1 1165.7,277.8 1167.4,276.4 1169.2,275.2 1171,273.9 1172.7,272.7 1174.5,271.5 1176.2,270.3 1178,269.2 1179.7,268.1 1181.5,267 1183.2,265.9 1185,264.9 1186.7,263.9 1188.5,262.9 1190.2,261.9 1192,261 1193.7,260.1 1195.5,259.2 1197.2,258.3 1199,257.5 1200.7,256.6 1202.5,255.8 1204.3,255.1 1206,254.3 1207.8,253.6 1209.5,252.8 1211.3,252.1 1213,251.5 1214.8,250.8 1216.5,250.2 1218.3,249.6 1220,249 1221.8,248.4 1223.5,247.9 1225.3,247.3 1227,246.8 1228.8,246.3 1230.5,245.9 1232.3,245.4 1234,245 1235.8,244.6 1237.6,244.2 1239.3,243.9 1241.1,243.6 1242.8,243.2 1244.6,243 1246.3,242.7 1248.1,242.5 1249.8,242.3 1251.6,242.1 1253.3,241.9 1255.1,241.8 1256.8,241.7 1258.6,241.6 1260.3,241.5 1262.1,241.5 1263.8,241.5 1265.6,241.5 1267.4,241.6 1269.1,241.7 1270.9,241.8 1272.6,242 1274.4,242.1 1276.1,242.4 1277.9,242.6 1279.6,242.9 1281.4,243.3 1283.1,243.7 1284.9,244.1 1286.6,244.6 1288.4,245.1 1290.1,245.7 1291.9,246.3 1293.6,247 1295.4,247.7 1297.1,248.5 1298.9,249.4 1300.7,250.4 1302.4,251.4 1304.2,252.5 1305.9,253.7 1307.7,255 1309.4,256.5 1311.2,258 1312.9,259.7 1314.7,261.5 1316.4,263.5 1318.2,265.8 1319.9,268.2 1321.7,270.9 1323.4,273.9 1325.2,277.4 1326.9,281.3 1328.7,285.8 1330.5,291.1 1332.2,297.5 1332.6,298.9 1333,300.8 1333.4,302.9 1333.9,305 1334,305.5 1334.3,307.3 1334.7,309.8 1335.2,312.5 1335.6,315.5 1335.7,316.1 1336.1,318.7 1336.5,322.2 1336.9,326.2 1337.4,330.6 1337.5,331.6 1337.8,335.8 1338.3,341.8 1338.7,349.1 1341.3,352.6 1342.6,346.6 1342.7,345.1 1343.1,339.5 1343.5,333.5 1343.9,328.3 1344.4,323.8 1344.5,322.9 1344.8,319.7 1345.3,316.1 1345.7,312.7 1346.1,309.7 1346.2,309.1 1346.6,306.8 1347,304.2 1347.5,301.7 1347.9,299.4 1348,299 1348.3,297.2 1348.8,295.1 1349.2,293.2 1349.6,291.3 1349.7,290.9 1350.1,289.5 1351.5,284.3 1353.2,278.6 1355,273.6 1356.7,269.2 1358.5,265.2 1360.2,261.6 1362,258.2 1363.8,255.2 1365.5,252.3 1367.3,249.6 1369,247.1 1370.8,244.7 1372.5,242.5 1374.3,240.4 1376,238.4 1377.8,236.5 1379.5,234.7 1381.3,232.9 1383,231.3 1384.8,229.7 1386.5,228.1 1388.3,226.7 1390,225.3 1391.8,223.9" stroke="#EDB120" stroke-width="7.2"/>
<path d="M129.8,200.8 131.6,200.4 133.3,199.9 135.1,199.5 136.8,199.1 138.6,198.7 140.3,198.3 142.1,197.9 143.8,197.6 145.6,197.2 147.3,196.9 149.1,196.6 150.8,196.3 152.6,196 154.3,195.8 156.1,195.5 157.8,195.3 159.6,195.1 161.4,194.9 163.1,194.7 164.9,194.5 166.6,194.3 168.4,194.2 170.1,194.1 171.9,194 173.6,193.8 175.4,193.8 177.1,193.7 178.9,193.6 180.6,193.6 182.4,193.5 184.1,193.5 185.9,193.5 187.6,193.5 189.4,193.5 191.1,193.5 192.9,193.6 194.7,193.6 196.4,193.7 198.2,193.8 199.9,193.9 201.7,194 203.4,194.1 205.2,194.2 206.9,194.3 208.7,194.5 210.4,194.7 212.2,194.8 213.9,195 215.7,195.2 217.4,195.4 219.2,195.7 220.9,195.9 222.7,196.1 224.4,196.4 226.2,196.7 228,197 229.7,197.3 231.5,197.6 233.2,197.9 235,198.2 236.7,198.6 238.5,198.9 240.2,199.3 242,199.7 243.7,200 245.5,200.4 247.2,200.9 249,201.3 250.7,201.7 252.5,202.2 254.2,202.6 256,203.1 257.8,203.6 259.5,204 261.3,204.5 263,205.1 264.8,205.6 266.5,206.1 268.3,206.7 270,207.2 271.8,207.8 273.5,208.4 275.3,209 277,209.6 278.8,210.2 280.5,210.8 282.3,211.4 284,212.1 285.8,212.7 287.6,213.4 289.3,214.1 291.1,214.8 292.8,215.5 294.6,216.2 296.3,216.9 298.1,217.7 299.8,218.4 301.6,219.2 303.3,219.9 305.1,220.7 306.8,221.5 308.6,222.3 310.3,223.1 312.1,223.9 313.8,224.8 315.6,225.6 317.3,226.5 319.1,227.4 320.9,228.2 322.6,229.1 324.4,230 326.1,231 327.9,231.9 329.6,232.8 331.4,233.8 333.1,234.8 334.9,235.7 336.6,236.7 338.4,237.7 340.1,238.7 341.9,239.7 343.6,240.8 345.4,241.8 347.1,242.9 348.9,243.9 350.6,245 352.4,246.1 354.2,247.2 355.9,248.3 357.7,249.4 359.4,250.5 361.2,251.6 362.9,252.7 364.7,253.9 366.4,255 368.2,256.2 369.9,257.3 371.7,258.5 373.4,259.7 375.2,260.8 376.9,262 378.7,263.2 380.4,264.3 382.2,265.5 384,266.7 385.7,267.8 387.5,268.9 389.2,270.1 391,271.2 392.7,272.3 394.5,273.4 396.2,274.4 398,275.5 399.7,276.5 401.5,277.5 403.2,278.4 405,279.4 406.7,280.3 408.5,281.1 410.2,281.9 412,282.7 413.8,283.5 415.5,284.2 417.3,284.8 419,285.5 420.8,286 422.5,286.6 424.3,287 426,287.5 427.8,287.9 429.5,288.3 431.3,288.6 433,288.9 434.8,289.1 436.5,289.3 438.3,289.5 440,289.6 441.8,289.7 443.5,289.7 445.3,289.7 447.1,289.7 448.8,289.7 450.6,289.6 452.3,289.5 454.1,289.3 455.8,289.1 457.6,288.9 459.3,288.6 461.1,288.3 462.8,287.9 464.6,287.5 466.3,287 468.1,286.6 469.8,286 471.6,285.5 473.3,284.8 475.1,284.2 476.8,283.5 478.6,282.7 480.4,281.9 482.1,281.1 483.9,280.3 485.6,279.4 487.4,278.4 489.1,277.5 490.9,276.5 492.6,275.5 494.4,274.4 496.1,273.4 497.9,272.3 499.6,271.2 501.4,270.1 503.1,268.9 504.9,267.8 506.6,266.7 508.4,265.5 510.2,264.3 511.9,263.2 513.7,262 515.4,260.8 517.2,259.7 518.9,258.5 520.7,257.3 522.4,256.2 524.2,255 525.9,253.9 527.7,252.7 529.4,251.6 531.2,250.5 532.9,249.4 534.7,248.3 536.4,247.2 538.2,246.1 540,245 541.7,243.9 543.5,242.9 545.2,241.8 547,240.8 548.7,239.7 550.5,238.7 552.2,237.7 554,236.7 555.7,235.7 557.5,234.8 559.2,233.8 561,232.8 562.7,231.9 564.5,231 566.2,230 568,229.1 569.7,228.2 571.5,227.4 573.3,226.5 575,225.6 576.8,224.8 578.5,223.9 580.3,223.1 582,222.3 583.8,221.5 585.5,220.7 587.3,219.9 589,219.2 590.8,218.4 592.5,217.7 594.3,216.9 596,216.2 597.8,215.5 599.5,214.8 601.3,214.1 603,213.4 604.8,212.7 606.6,212.1 608.3,211.4 610.1,210.8 611.8,210.2 613.6,209.6 615.3,209 617.1,208.4 618.8,207.8 620.6,207.2 622.3,206.7 624.1,206.1 625.8,205.6 627.6,205.1 629.3,204.5 631.1,204 632.8,203.6 634.6,203.1 636.4,202.6 638.1,202.2 639.9,201.7 641.6,201.3 643.4,200.9 645.1,200.4 646.9,200 648.6,199.7 650.4,199.3 652.1,198.9 653.9,198.6 655.6,198.2 657.4,197.9 659.1,197.6 660.9,197.3 662.6,197 664.4,196.7 666.2,196.4 667.9,196.1 669.7,195.9 671.4,195.7 673.2,195.4 674.9,195.2 676.7,195 678.4,194.8 680.2,194.7 681.9,194.5 683.7,194.3 685.4,194.2 687.2,194.1 688.9,194 690.7,193.9 692.4,193.8 694.2,193.7 695.9,193.6 697.7,193.6 699.5,193.5 701.2,193.5 703,193.5 704.7,193.5 706.5,193.5 708.2,193.5 710,193.6 711.7,193.6 713.5,193.7 715.2,193.8 717,193.8 718.7,194 720.5,194.1 722.2,194.2 724,194.3 725.7,194.5 727.5,194.7 729.2,194.9 731,195.1 732.8,195.3 734.5,195.5 736.3,195.8 738,196 739.8,196.3 741.5,196.6 743.3,196.9 745,197.2 746.8,197.6 748.5,197.9 750.3,198.3 752,198.7 753.8,199.1 755.5,199.5 757.3,199.9 759,200.4 760.8,200.8 762.6,201.3 764.3,201.8 766.1,202.3 767.8,202.9 769.6,203.4 771.3,204 773.1,204.6 774.8,205.2 776.6,205.8 778.3,206.4 780.1,207.1 781.8,207.8 783.6,208.5 785.3,209.2 787.1,210 788.8,210.7 790.6,211.5 792.3,212.3 794.1,213.2 795.9,214 797.6,214.9 799.4,215.8 801.1,216.7 802.9,217.7 804.6,218.6 806.4,219.7 808.1,220.7 809.9,221.7 811.6,222.8 813.4,223.9 815.1,225.1 816.9,226.3 818.6,227.5 820.4,228.7 822.1,230 823.9,231.3 825.7,232.7 827.4,234.1 829.2,235.5 830.9,237 832.7,238.5 834.4,240.1 836.2,241.7 837.9,243.4 839.7,245.1 841.4,246.9 843.2,248.7 844.9,250.6 846.7,252.6 848.4,254.7 850.2,256.8 851.9,259.1 853.7,261.4 855.4,263.9 857.2,266.4 859,269.1 860.7,272 862.5,275 864.2,278.2 866,281.6 867.7,285.3 869.5,289.3 871.2,293.6 873,298.4 874.7,303.7 876.5,309.7 878.2,316.7 878.6,318.3 879,320.3 879.5,322.4 879.9,324.6 880,325.1 880.3,327 880.8,329.5 881.2,332.1 881.7,335 881.7,335.6 882.1,338 882.5,341.3 883,344.9 883.4,348.9 883.5,349.8 883.8,353.3 884.3,358.3 884.7,364 885.2,370.8 885.2,372.3 885.6,379 886,389.5 886.5,404.3 887.4,414.3 888.2,405.1 888.7,390.6 888.8,388.3 889.1,380.5 889.5,372.6 890,366.2 890.4,360.9 890.5,359.9 890.9,356.2 891.3,352.2 891.7,348.6 892.2,345.3 892.3,344.7 892.6,342.4 893,339.7 893.5,337.2 893.9,334.9 894,334.5 894.4,332.8 894.8,330.8 895.2,328.9 895.7,327.2 895.8,326.8 896.1,325.5 897.5,320.8 899.3,315.9 901,311.8 902.8,308.2 904.5,305.2 906.3,302.5 908,300.2 909.8,298.1 911.5,296.3 913.3,294.7 915,293.2 916.8,292 918.6,290.8 920.3,289.8 922.1,288.9 923.8,288.1 925.6,287.4 927.3,286.7 929.1,286.2 930.8,285.8 932.6,285.4 934.3,285.1 936.1,284.8 937.8,284.6 939.6,284.5 941.3,284.4 943.1,284.4 944.8,284.4 946.6,284.5 948.3,284.7 950.1,284.8 951.9,285 953.6,285.3 955.4,285.6 957.1,286 958.9,286.4 960.6,286.8 962.4,287.3 964.1,287.8 965.9,288.3 967.6,288.9 969.4,289.5 971.1,290.2 972.9,290.9 974.6,291.6 976.4,292.4 978.1,293.2 979.9,294.1 981.6,295 983.4,295.9 985.2,296.9 986.9,297.9 988.7,299 990.4,300.1 992.2,301.2 993.9,302.4 995.7,303.6 997.4,304.9 999.2,306.2 1000.9,307.6 1002.7,309 1004.4,310.5 1006.2,312 1007.9,313.6 1009.7,315.2 1011.4,316.9 1013.2,318.6 1015,320.4 1016.7,322.3 1018.5,324.3 1020.2,326.3 1022,328.4 1023.7,330.6 1025.5,332.9 1027.2,335.2 1029,337.7 1030.7,340.3 1032.5,342.9 1034.2,345.8 1036,348.7 1037.7,351.8 1039.5,355 1041.2,358.4 1043,362 1044.8,365.8 1046.5,369.8 1048.3,374.1 1050,378.7 1051.8,383.6 1053.5,388.8 1055.3,394.5 1057,400.8 1058.8,407.6 1060.5,415.1 1062.3,423.5 1064,433.1 1065.8,444.2 1067.5,457.3 1068.3,464.5 1076.3,464.5 1084.3,464.5 1085.1,457.3 1086.8,444.2 1088.6,433.1 1090.3,423.5 1092.1,415.1 1093.8,407.6 1095.6,400.8 1097.3,394.5 1099.1,388.8 1100.8,383.6 1102.6,378.7 1104.3,374.1 1106.1,369.8 1107.8,365.8 1109.6,362 1111.4,358.4 1113.1,355 1114.9,351.8 1116.6,348.7 1118.4,345.8 1120.1,342.9 1121.9,340.3 1123.6,337.7 1125.4,335.2 1127.1,332.9 1128.9,330.6 1130.6,328.4 1132.4,326.3 1134.1,324.3 1135.9,322.3 1137.6,320.4 1139.4,318.6 1141.2,316.9 1142.9,315.2 1144.7,313.6 1146.4,312 1148.2,310.5 1149.9,309 1151.7,307.6 1153.4,306.2 1155.2,304.9 1156.9,303.6 1158.7,302.4 1160.4,301.2 1162.2,300.1 1163.9,299 1165.7,297.9 1167.4,296.9 1169.2,295.9 1171,295 1172.7,294.1 1174.5,293.2 1176.2,292.4 1178,291.6 1179.7,290.9 1181.5,290.2 1183.2,289.5 1185,288.9 1186.7,288.3 1188.5,287.8 1190.2,287.3 1192,286.8 1193.7,286.4 1195.5,286 1197.2,285.6 1199,285.3 1200.7,285 1202.5,284.8 1204.3,284.7 1206,284.5 1207.8,284.4 1209.5,284.4 1211.3,284.4 1213,284.5 1214.8,284.6 1216.5,284.8 1218.3,285.1 1220,285.4 1221.8,285.8 1223.5,286.2 1225.3,286.7 1227,287.4 1228.8,288.1 1230.5,288.9 1232.3,289.8 1234,290.8 1235.8,292 1237.6,293.2 1239.3,294.7 1241.1,296.3 1242.8,298.1 1244.6,300.2 1246.3,302.5 1248.1,305.2 1249.8,308.2 1251.6,311.8 1253.3,315.9 1255.1,320.8 1256.5,325.5 1256.8,326.8 1256.9,327.2 1257.4,328.9 1257.8,330.8 1258.2,332.8 1258.6,334.5 1258.7,334.9 1259.1,337.2 1259.6,339.7 1260,342.4 1260.3,344.7 1260.4,345.3 1260.9,348.6 1261.3,352.2 1261.7,356.2 1262.1,359.9 1262.2,360.9 1262.6,366.2 1263.1,372.6 1263.5,380.5 1263.8,388.3 1263.9,390.6 1264.4,405.1 1265.2,414.3 1266.1,404.3 1266.6,389.5 1267,379 1267.4,372.3 1267.4,370.8 1267.9,364 1268.3,358.3 1268.8,353.3 1269.1,349.8 1269.2,348.9 1269.6,344.9 1270.1,341.3 1270.5,338 1270.9,335.6 1270.9,335 1271.4,332.1 1271.8,329.5 1272.3,327 1272.6,325.1 1272.7,324.6 1273.1,322.4 1273.6,320.3 1274,318.3 1274.4,316.7 1276.1,309.7 1277.9,303.7 1279.6,298.4 1281.4,293.6 1283.1,289.3 1284.9,285.3 1286.6,281.6 1288.4,278.2 1290.1,275 1291.9,272 1293.6,269.1 1295.4,266.4 1297.1,263.9 1298.9,261.4 1300.7,259.1 1302.4,256.8 1304.2,254.7 1305.9,252.6 1307.7,250.6 1309.4,248.7 1311.2,246.9 1312.9,245.1 1314.7,243.4 1316.4,241.7 1318.2,240.1 1319.9,238.5 1321.7,237 1323.4,235.5 1325.2,234.1 1326.9,232.7 1328.7,231.3 1330.5,230 1332.2,228.7 1334,227.5 1335.7,226.3 1337.5,225.1 1339.2,223.9 1341,222.8 1342.7,221.7 1344.5,220.7 1346.2,219.7 1348,218.6 1349.7,217.7 1351.5,216.7 1353.2,215.8 1355,214.9 1356.7,214 1358.5,213.2 1360.2,212.3 1362,211.5 1363.8,210.7 1365.5,210 1367.3,209.2 1369,208.5 1370.8,207.8 1372.5,207.1 1374.3,206.4 1376,205.8 1377.8,205.2 1379.5,204.6 1381.3,204 1383,203.4 1384.8,202.9 1386.5,202.3 1388.3,201.8 1390,201.3 1391.8,200.8" stroke="#7E2F8E" stroke-width="7.2"/>
<path d="M129.8,195.8 131.6,195.9 133.3,196 135.1,196 136.8,196.1 138.6,196.2 140.3,196.3 142.1,196.5 143.8,196.6 145.6,196.8 147.3,196.9 149.1,197.1 150.8,197.3 152.6,197.5 154.3,197.7 156.1,197.9 157.8,198.2 159.6,198.4 161.4,198.7 163.1,199 164.9,199.3 166.6,199.6 168.4,199.9 170.1,200.3 171.9,200.6 173.6,201 175.4,201.4 177.1,201.7 178.9,202.2 180.6,202.6 182.4,203 184.1,203.5 185.9,203.9 187.6,204.4 189.4,204.9 191.1,205.4 192.9,205.9 194.7,206.5 196.4,207 198.2,207.6 199.9,208.2 201.7,208.8 203.4,209.4 205.2,210.1 206.9,210.7 208.7,211.4 210.4,212.1 212.2,212.8 213.9,213.5 215.7,214.2 217.4,215 219.2,215.8 220.9,216.6 222.7,217.4 224.4,218.2 226.2,219.1 228,220 229.7,220.9 231.5,221.8 233.2,222.7 235,223.7 236.7,224.7 238.5,225.7 240.2,226.8 242,227.8 243.7,228.9 245.5,230.1 247.2,231.2 249,232.4 250.7,233.6 252.5,234.8 254.2,236.1 256,237.4 257.8,238.8 259.5,240.2 261.3,241.6 263,243.1 264.8,244.6 266.5,246.2 268.3,247.8 270,249.5 271.8,251.3 273.5,253.1 275.3,255 277,256.9 278.8,259 280.5,261.1 282.3,263.3 284,265.6 285.8,268.1 287.6,270.7 289.3,273.4 291.1,276.3 292.8,279.5 294.6,282.8 296.3,286.4 298.1,290.4 299.8,294.7 301.6,299.5 303.3,305 305.1,311.3 306.1,315.6 306.6,317.6 306.8,318.8 307,319.6 307.4,321.8 307.9,324.1 308.3,326.5 308.6,328 308.8,329.1 309.2,331.9 309.6,334.8 310.1,338.1 310.3,340.1 310.5,341.6 310.9,345.5 311.4,349.8 311.8,354.8 312.1,358 312.3,360.4 312.7,367.1 313.1,375.2 314.9,378.7 316.6,376 317.1,368.1 317.3,364.1 317.5,361.6 318,356.2 318.4,351.5 318.8,347.3 319.1,345.1 319.3,343.7 319.7,340.3 320.2,337.3 320.6,334.5 320.9,333 321,332 321.5,329.6 321.9,327.4 322.3,325.3 322.6,324.1 322.8,323.3 323.2,321.5 323.7,319.7 324.4,317.1 326.1,311.4 327.9,306.6 329.6,302.5 331.4,298.9 333.1,295.7 334.9,292.8 336.6,290.2 338.4,287.9 340.1,285.7 341.9,283.8 343.6,281.9 345.4,280.2 347.1,278.7 348.9,277.2 350.6,275.9 352.4,274.6 354.2,273.4 355.9,272.3 357.7,271.2 359.4,270.2 361.2,269.3 362.9,268.4 364.7,267.6 366.4,266.8 368.2,266.1 369.9,265.4 371.7,264.7 373.4,264.1 375.2,263.5 376.9,262.9 378.7,262.4 380.4,261.8 382.2,261.4 384,260.9 385.7,260.5 387.5,260 389.2,259.7 391,259.3 392.7,258.9 394.5,258.6 396.2,258.3 398,258 399.7,257.7 401.5,257.4 403.2,257.2 405,256.9 406.7,256.7 408.5,256.5 410.2,256.3 412,256.1 413.8,255.9 415.5,255.7 417.3,255.6 419,255.4 420.8,255.3 422.5,255.2 424.3,255.1 426,255 427.8,254.9 429.5,254.8 431.3,254.7 433,254.6 434.8,254.6 436.5,254.5 438.3,254.5 440,254.5 441.8,254.4 443.5,254.4 445.3,254.4 447.1,254.4 448.8,254.4 450.6,254.5 452.3,254.5 454.1,254.5 455.8,254.6 457.6,254.6 459.3,254.7 461.1,254.8 462.8,254.9 464.6,255 466.3,255.1 468.1,255.2 469.8,255.3 471.6,255.4 473.3,255.6 475.1,255.7 476.8,255.9 478.6,256.1 480.4,256.3 482.1,256.5 483.9,256.7 485.6,256.9 487.4,257.2 489.1,257.4 490.9,257.7 492.6,258 494.4,258.3 496.1,258.6 497.9,258.9 499.6,259.3 501.4,259.7 503.1,260 504.9,260.5 506.6,260.9 508.4,261.4 510.2,261.8 511.9,262.4 513.7,262.9 515.4,263.5 517.2,264.1 518.9,264.7 520.7,265.4 522.4,266.1 524.2,266.8 525.9,267.6 527.7,268.4 529.4,269.3 531.2,270.2 532.9,271.2 534.7,272.3 536.4,273.4 538.2,274.6 540,275.9 541.7,277.2 543.5,278.7 545.2,280.2 547,281.9 548.7,283.8 550.5,285.7 552.2,287.9 554,290.2 555.7,292.8 557.5,295.7 559.2,298.9 561,302.5 562.7,306.6 564.5,311.4 566.2,317.1 566.9,319.7 567.4,321.5 567.8,323.3 568,324.1 568.3,325.3 568.7,327.4 569.1,329.6 569.6,332 569.7,333 570,334.5 570.4,337.3 570.9,340.3 571.3,343.7 571.5,345.1 571.8,347.3 572.2,351.5 572.6,356.2 573.1,361.6 573.3,364.1 573.5,368.1 574,376 575.7,378.7 577.5,375.2 577.9,367.1 578.3,360.4 578.5,358 578.8,354.8 579.2,349.8 579.7,345.5 580.1,341.6 580.3,340.1 580.5,338.1 581,334.8 581.4,331.9 581.8,329.1 582,328 582.3,326.5 582.7,324.1 583.2,321.8 583.6,319.6 583.8,318.8 584,317.6 584.5,315.6 585.5,311.3 587.3,305 589,299.5 590.8,294.7 592.5,290.4 594.3,286.4 596,282.8 597.8,279.5 599.5,276.3 601.3,273.4 603,270.7 604.8,268.1 606.6,265.6 608.3,263.3 610.1,261.1 611.8,259 613.6,256.9 615.3,255 617.1,253.1 618.8,251.3 620.6,249.5 622.3,247.8 624.1,246.2 625.8,244.6 627.6,243.1 629.3,241.6 631.1,240.2 632.8,238.8 634.6,237.4 636.4,236.1 638.1,234.8 639.9,233.6 641.6,232.4 643.4,231.2 645.1,230.1 646.9,228.9 648.6,227.8 650.4,226.8 652.1,225.7 653.9,224.7 655.6,223.7 657.4,222.7 659.1,221.8 660.9,220.9 662.6,220 664.4,219.1 666.2,218.2 667.9,217.4 669.7,216.6 671.4,215.8 673.2,215 674.9,214.2 676.7,213.5 678.4,212.8 680.2,212.1 681.9,211.4 683.7,210.7 685.4,210.1 687.2,209.4 688.9,208.8 690.7,208.2 692.4,207.6 694.2,207 695.9,206.5 697.7,205.9 699.5,205.4 701.2,204.9 703,204.4 704.7,203.9 706.5,203.5 708.2,203 710,202.6 711.7,202.2 713.5,201.7 715.2,201.4 717,201 718.7,200.6 720.5,200.3 722.2,199.9 724,199.6 725.7,199.3 727.5,199 729.2,198.7 731,198.4 732.8,198.2 734.5,197.9 736.3,197.7 738,197.5 739.8,197.3 741.5,197.1 743.3,196.9 745,196.8 746.8,196.6 748.5,196.5 750.3,196.3 752,196.2 753.8,196.1 755.5,196 757.3,196 759,195.9 760.8,195.8 762.6,195.8 764.3,195.8 766.1,195.8 767.8,195.8 769.6,195.8 771.3,195.8 773.1,195.8 774.8,195.9 776.6,196 778.3,196 780.1,196.1 781.8,196.2 783.6,196.3 785.3,196.4 787.1,196.6 788.8,196.7 790.6,196.9 792.3,197.1 794.1,197.2 795.9,197.4 797.6,197.6 799.4,197.9 801.1,198.1 802.9,198.3 804.6,198.6 806.4,198.9 808.1,199.1 809.9,199.4 811.6,199.7 813.4,200 815.1,200.4 816.9,200.7 818.6,201 820.4,201.4 822.1,201.8 823.9,202.2 825.7,202.6 827.4,203 829.2,203.4 830.9,203.8 832.7,204.3 834.4,204.7 836.2,205.2 837.9,205.7 839.7,206.2 841.4,206.7 843.2,207.2 844.9,207.7 846.7,208.2 848.4,208.8 850.2,209.3 851.9,209.9 853.7,210.5 855.4,211.1 857.2,211.7 859,212.3 860.7,212.9 862.5,213.6 864.2,214.2 866,214.9 867.7,215.6 869.5,216.3 871.2,217 873,217.7 874.7,218.4 876.5,219.1 878.2,219.9 880,220.6 881.7,221.4 883.5,222.2 885.2,223 887,223.8 888.8,224.6 890.5,225.4 892.3,226.3 894,227.1 895.8,228 897.5,228.9 899.3,229.7 901,230.6 902.8,231.6 904.5,232.5 906.3,233.4 908,234.4 909.8,235.3 911.5,236.3 913.3,237.3 915,238.3 916.8,239.3 918.6,240.3 920.3,241.3 922.1,242.4 923.8,243.4 925.6,244.5 927.3,245.6 929.1,246.7 930.8,247.8 932.6,248.9 934.3,250.1 936.1,251.2 937.8,252.4 939.6,253.6 941.3,254.8 943.1,256 944.8,257.2 946.6,258.4 948.3,259.7 950.1,260.9 951.9,262.2 953.6,263.5 955.4,264.8 957.1,266.1 958.9,267.5 960.6,268.8 962.4,270.2 964.1,271.6 965.9,273 967.6,274.5 969.4,275.9 971.1,277.4 972.9,278.9 974.6,280.4 976.4,281.9 978.1,283.4 979.9,285 981.6,286.6 983.4,288.2 985.2,289.9 986.9,291.5 988.7,293.2 990.4,294.9 992.2,296.7 993.9,298.4 995.7,300.2 997.4,302.1 999.2,304 1000.9,305.9 1002.7,307.8 1004.4,309.8 1006.2,311.8 1007.9,313.8 1009.7,315.9 1011.4,318.1 1013.2,320.3 1015,322.5 1016.7,324.8 1018.5,327.2 1020.2,329.6 1022,332.1 1023.7,334.6 1025.5,337.2 1027.2,340 1029,342.8 1030.7,345.6 1032.5,348.6 1034.2,351.7 1036,354.9 1037.7,358.3 1039.5,361.8 1041.2,365.4 1043,369.3 1044.8,373.3 1046.5,377.5 1048.3,382 1050,386.8 1051.8,391.8 1053.5,397.2 1055.3,403.1 1057,409.4 1058.8,416.4 1060.5,424 1062.3,432.6 1064,442.3 1065.8,453.4 1067.3,464.5 1076.3,464.5 1085.3,464.5 1086.8,453.4 1088.6,442.3 1090.3,432.6 1092.1,424 1093.8,416.4 1095.6,409.4 1097.3,403.1 1099.1,397.2 1100.8,391.8 1102.6,386.8 1104.3,382 1106.1,377.5 1107.8,373.3 1109.6,369.3 1111.4,365.4 1113.1,361.8 1114.9,358.3 1116.6,354.9 1118.4,351.7 1120.1,348.6 1121.9,345.6 1123.6,342.8 1125.4,340 1127.1,337.2 1128.9,334.6 1130.6,332.1 1132.4,329.6 1134.1,327.2 1135.9,324.8 1137.6,322.5 1139.4,320.3 1141.2,318.1 1142.9,315.9 1144.7,313.8 1146.4,311.8 1148.2,309.8 1149.9,307.8 1151.7,305.9 1153.4,304 1155.2,302.1 1156.9,300.2 1158.7,298.4 1160.4,296.7 1162.2,294.9 1163.9,293.2 1165.7,291.5 1167.4,289.9 1169.2,288.2 1171,286.6 1172.7,285 1174.5,283.4 1176.2,281.9 1178,280.4 1179.7,278.9 1181.5,277.4 1183.2,275.9 1185,274.5 1186.7,273 1188.5,271.6 1190.2,270.2 1192,268.8 1193.7,267.5 1195.5,266.1 1197.2,264.8 1199,263.5 1200.7,262.2 1202.5,260.9 1204.3,259.7 1206,258.4 1207.8,257.2 1209.5,256 1211.3,254.8 1213,253.6 1214.8,252.4 1216.5,251.2 1218.3,250.1 1220,248.9 1221.8,247.8 1223.5,246.7 1225.3,245.6 1227,244.5 1228.8,243.4 1230.5,242.4 1232.3,241.3 1234,240.3 1235.8,239.3 1237.6,238.3 1239.3,237.3 1241.1,236.3 1242.8,235.3 1244.6,234.4 1246.3,233.4 1248.1,232.5 1249.8,231.6 1251.6,230.6 1253.3,229.7 1255.1,228.9 1256.8,228 1258.6,227.1 1260.3,226.3 1262.1,225.4 1263.8,224.6 1265.6,223.8 1267.4,223 1269.1,222.2 1270.9,221.4 1272.6,220.6 1274.4,219.9 1276.1,219.1 1277.9,218.4 1279.6,217.7 1281.4,217 1283.1,216.3 1284.9,215.6 1286.6,214.9 1288.4,214.2 1290.1,213.6 1291.9,212.9 1293.6,212.3 1295.4,211.7 1297.1,211.1 1298.9,210.5 1300.7,209.9 1302.4,209.3 1304.2,208.8 1305.9,208.2 1307.7,207.7 1309.4,207.2 1311.2,206.7 1312.9,206.2 1314.7,205.7 1316.4,205.2 1318.2,204.7 1319.9,204.3 1321.7,203.8 1323.4,203.4 1325.2,203 1326.9,202.6 1328.7,202.2 1330.5,201.8 1332.2,201.4 1334,201 1335.7,200.7 1337.5,200.4 1339.2,200 1341,199.7 1342.7,199.4 1344.5,199.1 1346.2,198.9 1348,198.6 1349.7,198.3 1351.5,198.1 1353.2,197.9 1355,197.6 1356.7,197.4 1358.5,197.2 1360.2,197.1 1362,196.9 1363.8,196.7 1365.5,196.6 1367.3,196.4 1369,196.3 1370.8,196.2 1372.5,196.1 1374.3,196 1376,196 1377.8,195.9 1379.5,195.8 1381.3,195.8 1383,195.8 1384.8,195.8 1386.5,195.8 1388.3,195.8 1390,195.8 1391.8,195.8" stroke="#77AC30" stroke-width="7.2"/>
<path d="M129.8,202.1 131.6,202.6 133.3,203.2 135.1,203.7 136.8,204.3 138.6,204.8 140.3,205.5 142.1,206.1 143.8,206.7 145.6,207.4 147.3,208.1 149.1,208.8 150.8,209.6 152.6,210.4 154.3,211.2 156.1,212 157.8,212.9 159.6,213.7 161.4,214.7 163.1,215.6 164.9,216.6 166.6,217.6 168.4,218.7 170.1,219.7 171.9,220.9 173.6,222 175.4,223.2 177.1,224.5 178.9,225.8 180.6,227.1 182.4,228.5 184.1,230 185.9,231.5 187.6,233.1 189.4,234.7 191.1,236.4 192.9,238.2 194.7,240.1 196.4,242 198.2,244.1 199.9,246.3 201.7,248.5 203.4,251 205.2,253.5 206.9,256.3 208.7,259.2 210.4,262.3 212.2,265.8 213.9,269.5 215.7,273.6 217.4,278.1 219.2,283.2 220.9,289.1 222.7,296 223.1,297.9 223.6,299.9 224,302.1 224.4,304.3 224.9,306.7 225.3,309.3 225.8,312.1 226.2,315 226.6,318.2 227.1,321.8 227.5,325.6 228,330 228.4,334.9 228.8,340.5 229.3,347.2 229.7,355.3 231.5,360.4 233.2,356 233.7,348.1 234.1,341.6 234.5,336.1 235,331.4 235.4,327.3 235.8,323.6 236.3,320.2 236.7,317.2 237.2,314.4 237.6,311.8 238,309.5 238.5,307.2 238.9,305.1 239.3,303.2 239.8,301.3 240.2,299.6 242,293.4 243.7,288.3 245.5,283.9 247.2,280.1 249,276.7 250.7,273.7 252.5,271 254.2,268.6 256,266.4 257.8,264.4 259.5,262.5 261.3,260.8 263,259.2 264.8,257.8 266.5,256.4 268.3,255.1 270,254 271.8,252.9 273.5,251.9 275.3,250.9 277,250 278.8,249.2 280.5,248.4 282.3,247.7 284,247 285.8,246.4 287.6,245.8 289.3,245.3 291.1,244.8 292.8,244.3 294.6,243.9 296.3,243.5 298.1,243.1 299.8,242.8 301.6,242.4 303.3,242.1 305.1,241.9 306.8,241.6 308.6,241.4 310.3,241.2 312.1,241 313.8,240.9 315.6,240.8 317.3,240.6 319.1,240.5 320.9,240.5 322.6,240.4 324.4,240.3 326.1,240.3 327.9,240.3 329.6,240.3 331.4,240.3 333.1,240.3 334.9,240.3 336.6,240.4 338.4,240.4 340.1,240.5 341.9,240.5 343.6,240.6 345.4,240.7 347.1,240.8 348.9,240.9 350.6,241 352.4,241.1 354.2,241.3 355.9,241.4 357.7,241.5 359.4,241.7 361.2,241.8 362.9,242 364.7,242.1 366.4,242.3 368.2,242.5 369.9,242.6 371.7,242.8 373.4,243 375.2,243.2 376.9,243.3 378.7,243.5 380.4,243.7 382.2,243.9 384,244 385.7,244.2 387.5,244.4 389.2,244.6 391,244.7 392.7,244.9 394.5,245.1 396.2,245.2 398,245.4 399.7,245.6 401.5,245.7 403.2,245.9 405,246 406.7,246.2 408.5,246.3 410.2,246.5 412,246.6 413.8,246.7 415.5,246.9 417.3,247 419,247.1 420.8,247.2 422.5,247.3 424.3,247.4 426,247.5 427.8,247.5 429.5,247.6 431.3,247.7 433,247.7 434.8,247.8 436.5,247.8 438.3,247.9 440,247.9 441.8,247.9 443.5,247.9 445.3,247.9 447.1,247.9 448.8,247.9 450.6,247.9 452.3,247.9 454.1,247.8 455.8,247.8 457.6,247.7 459.3,247.7 461.1,247.6 462.8,247.5 464.6,247.5 466.3,247.4 468.1,247.3 469.8,247.2 471.6,247.1 473.3,247 475.1,246.9 476.8,246.7 478.6,246.6 480.4,246.5 482.1,246.3 483.9,246.2 485.6,246 487.4,245.9 489.1,245.7 490.9,245.6 492.6,245.4 494.4,245.2 496.1,245.1 497.9,244.9 499.6,244.7 501.4,244.6 503.1,244.4 504.9,244.2 506.6,244 508.4,243.9 510.2,243.7 511.9,243.5 513.7,243.3 515.4,243.2 517.2,243 518.9,242.8 520.7,242.6 522.4,242.5 524.2,242.3 525.9,242.1 527.7,242 529.4,241.8 531.2,241.7 532.9,241.5 534.7,241.4 536.4,241.3 538.2,241.1 540,241 541.7,240.9 543.5,240.8 545.2,240.7 547,240.6 548.7,240.5 550.5,240.5 552.2,240.4 554,240.4 555.7,240.3 557.5,240.3 559.2,240.3 561,240.3 562.7,240.3 564.5,240.3 566.2,240.3 568,240.4 569.7,240.5 571.5,240.5 573.3,240.6 575,240.8 576.8,240.9 578.5,241 580.3,241.2 582,241.4 583.8,241.6 585.5,241.9 587.3,242.1 589,242.4 590.8,242.8 592.5,243.1 594.3,243.5 596,243.9 597.8,244.3 599.5,244.8 601.3,245.3 603,245.8 604.8,246.4 606.6,247 608.3,247.7 610.1,248.4 611.8,249.2 613.6,250 615.3,250.9 617.1,251.9 618.8,252.9 620.6,254 622.3,255.1 624.1,256.4 625.8,257.8 627.6,259.2 629.3,260.8 631.1,262.5 632.8,264.4 634.6,266.4 636.4,268.6 638.1,271 639.9,273.7 641.6,276.7 643.4,280.1 645.1,283.9 646.9,288.3 648.6,293.4 650.4,299.6 650.8,301.3 651.3,303.2 651.7,305.1 652.1,307.2 652.6,309.5 653,311.8 653.4,314.4 653.9,317.2 654.3,320.2 654.8,323.6 655.2,327.3 655.6,331.4 656.1,336.1 656.5,341.6 656.9,348.1 657.4,356 659.1,360.4 660.9,355.3 661.3,347.2 661.8,340.5 662.2,334.9 662.6,330 663.1,325.6 663.5,321.8 664,318.2 664.4,315 664.8,312.1 665.3,309.3 665.7,306.7 666.2,304.3 666.6,302.1 667,299.9 667.5,297.9 667.9,296 669.7,289.1 671.4,283.2 673.2,278.1 674.9,273.6 676.7,269.5 678.4,265.8 680.2,262.3 681.9,259.2 683.7,256.3 685.4,253.5 687.2,251 688.9,248.5 690.7,246.3 692.4,244.1 694.2,242 695.9,240.1 697.7,238.2 699.5,236.4 701.2,234.7 703,233.1 704.7,231.5 706.5,230 708.2,228.5 710,227.1 711.7,225.8 713.5,224.5 715.2,223.2 717,222 718.7,220.9 720.5,219.7 722.2,218.7 724,217.6 725.7,216.6 727.5,215.6 729.2,214.7 731,213.7 732.8,212.9 734.5,212 736.3,211.2 738,210.4 739.8,209.6 741.5,208.8 743.3,208.1 745,207.4 746.8,206.7 748.5,206.1 750.3,205.5 752,204.8 753.8,204.3 755.5,203.7 757.3,203.2 759,202.6 760.8,202.1 762.6,201.7 764.3,201.2 766.1,200.8 767.8,200.3 769.6,199.9 771.3,199.5 773.1,199.2 774.8,198.8 776.6,198.5 778.3,198.2 780.1,197.9 781.8,197.6 783.6,197.3 785.3,197.1 787.1,196.9 788.8,196.6 790.6,196.4 792.3,196.3 794.1,196.1 795.9,195.9 797.6,195.8 799.4,195.7 801.1,195.6 802.9,195.5 804.6,195.4 806.4,195.4 808.1,195.3 809.9,195.3 811.6,195.3 813.4,195.3 815.1,195.3 816.9,195.3 818.6,195.3 820.4,195.4 822.1,195.4 823.9,195.5 825.7,195.6 827.4,195.7 829.2,195.8 830.9,196 832.7,196.1 834.4,196.3 836.2,196.5 837.9,196.7 839.7,196.9 841.4,197.1 843.2,197.3 844.9,197.5 846.7,197.8 848.4,198.1 850.2,198.3 851.9,198.6 853.7,198.9 855.4,199.2 857.2,199.6 859,199.9 860.7,200.3 862.5,200.6 864.2,201 866,201.4 867.7,201.8 869.5,202.2 871.2,202.7 873,203.1 874.7,203.6 876.5,204 878.2,204.5 880,205 881.7,205.5 883.5,206 885.2,206.6 887,207.1 888.8,207.6 890.5,208.2 892.3,208.8 894,209.4 895.8,210 897.5,210.6 899.3,211.2 901,211.9 902.8,212.5 904.5,213.2 906.3,213.9 908,214.6 909.8,215.3 911.5,216 913.3,216.7 915,217.5 916.8,218.2 918.6,219 920.3,219.8 922.1,220.6 923.8,221.4 925.6,222.2 927.3,223 929.1,223.9 930.8,224.8 932.6,225.6 934.3,226.5 936.1,227.4 937.8,228.4 939.6,229.3 941.3,230.3 943.1,231.2 944.8,232.2 946.6,233.2 948.3,234.2 950.1,235.3 951.9,236.3 953.6,237.4 955.4,238.4 957.1,239.5 958.9,240.7 960.6,241.8 962.4,243 964.1,244.1 965.9,245.3 967.6,246.5 969.4,247.8 971.1,249 972.9,250.3 974.6,251.6 976.4,252.9 978.1,254.2 979.9,255.6 981.6,257 983.4,258.4 985.2,259.8 986.9,261.3 988.7,262.8 990.4,264.3 992.2,265.9 993.9,267.5 995.7,269.1 997.4,270.8 999.2,272.4 1000.9,274.2 1002.7,275.9 1004.4,277.7 1006.2,279.6 1007.9,281.5 1009.7,283.4 1011.4,285.4 1013.2,287.4 1015,289.5 1016.7,291.7 1018.5,293.9 1020.2,296.2 1022,298.5 1023.7,301 1025.5,303.5 1027.2,306 1029,308.7 1030.7,311.5 1032.5,314.4 1034.2,317.4 1036,320.5 1037.7,323.7 1039.5,327.1 1041.2,330.7 1043,334.4 1044.8,338.4 1046.5,342.5 1048.3,346.9 1050,351.6 1051.8,356.6 1053.5,362 1055.3,367.8 1057,374.1 1058.8,380.9 1060.5,388.6 1062.3,397.1 1064,406.7 1065.8,417.8 1067.5,431 1069.3,447 1070.8,464.5 1076.3,464.5 1081.8,464.5 1083.3,447 1085.1,431 1086.8,417.8 1088.6,406.7 1090.3,397.1 1092.1,388.6 1093.8,380.9 1095.6,374.1 1097.3,367.8 1099.1,362 1100.8,356.6 1102.6,351.6 1104.3,346.9 1106.1,342.5 1107.8,338.4 1109.6,334.4 1111.4,330.7 1113.1,327.1 1114.9,323.7 1116.6,320.5 1118.4,317.4 1120.1,314.4 1121.9,311.5 1123.6,308.7 1125.4,306 1127.1,303.5 1128.9,301 1130.6,298.5 1132.4,296.2 1134.1,293.9 1135.9,291.7 1137.6,289.5 1139.4,287.4 1141.2,285.4 1142.9,283.4 1144.7,281.5 1146.4,279.6 1148.2,277.7 1149.9,275.9 1151.7,274.2 1153.4,272.4 1155.2,270.8 1156.9,269.1 1158.7,267.5 1160.4,265.9 1162.2,264.3 1163.9,262.8 1165.7,261.3 1167.4,259.8 1169.2,258.4 1171,257 1172.7,255.6 1174.5,254.2 1176.2,252.9 1178,251.6 1179.7,250.3 1181.5,249 1183.2,247.8 1185,246.5 1186.7,245.3 1188.5,244.1 1190.2,243 1192,241.8 1193.7,240.7 1195.5,239.5 1197.2,238.4 1199,237.4 1200.7,236.3 1202.5,235.3 1204.3,234.2 1206,233.2 1207.8,232.2 1209.5,231.2 1211.3,230.3 1213,229.3 1214.8,228.4 1216.5,227.4 1218.3,226.5 1220,225.6 1221.8,224.8 1223.5,223.9 1225.3,223 1227,222.2 1228.8,221.4 1230.5,220.6 1232.3,219.8 1234,219 1235.8,218.2 1237.6,217.5 1239.3,216.7 1241.1,216 1242.8,215.3 1244.6,214.6 1246.3,213.9 1248.1,213.2 1249.8,212.5 1251.6,211.9 1253.3,211.2 1255.1,210.6 1256.8,210 1258.6,209.4 1260.3,208.8 1262.1,208.2 1263.8,207.6 1265.6,207.1 1267.4,206.6 1269.1,206 1270.9,205.5 1272.6,205 1274.4,204.5 1276.1,204 1277.9,203.6 1279.6,203.1 1281.4,202.7 1283.1,202.2 1284.9,201.8 1286.6,201.4 1288.4,201 1290.1,200.6 1291.9,200.3 1293.6,199.9 1295.4,199.6 1297.1,199.2 1298.9,198.9 1300.7,198.6 1302.4,198.3 1304.2,198.1 1305.9,197.8 1307.7,197.5 1309.4,197.3 1311.2,197.1 1312.9,196.9 1314.7,196.7 1316.4,196.5 1318.2,196.3 1319.9,196.1 1321.7,196 1323.4,195.8 1325.2,195.7 1326.9,195.6 1328.7,195.5 1330.5,195.4 1332.2,195.4 1334,195.3 1335.7,195.3 1337.5,195.3 1339.2,195.3 1341,195.3 1342.7,195.3 1344.5,195.3 1346.2,195.4 1348,195.4 1349.7,195.5 1351.5,195.6 1353.2,195.7 1355,195.8 1356.7,195.9 1358.5,196.1 1360.2,196.3 1362,196.4 1363.8,196.6 1365.5,196.9 1367.3,197.1 1369,197.3 1370.8,197.6 1372.5,197.9 1374.3,198.2 1376,198.5 1377.8,198.8 1379.5,199.2 1381.3,199.5 1383,199.9 1384.8,200.3 1386.5,200.8 1388.3,201.2 1390,201.7 1391.8,202.1" stroke="#4DBEEE" stroke-width="7.2"/>
</g>
<path d="M235.0,101.3v13M235.0,433.0v-13M410.2,101.3v13M410.2,433.0v-13M585.5,101.3v13M585.5,433.0v-13M760.8,101.3v13M760.8,433.0v-13M936.1,101.3v13M936.1,433.0v-13M1111.4,101.3v13M1111.4,433.0v-13M1286.6,101.3v13M1286.6,433.0v-13M129.8,142.8h13M1391.8,142.8h-13M129.8,225.7h13M1391.8,225.7h-13M129.8,308.6h13M1391.8,308.6h-13M129.8,391.5h13M1391.8,391.5h-13" stroke="#222" stroke-width="1.8" fill="none"/>
<rect x="129.8" y="101.3" width="1262.0" height="331.7" fill="none" stroke="#1a1a1a" stroke-width="2.3"/>
<path d="M447.9,106.2V433.5" stroke="#000" stroke-width="7.8" stroke-dasharray="29.3 30.2" fill="none"/>
<path d="M1074.1,106.2V433.5" stroke="#000" stroke-width="7.8" stroke-dasharray="29.3 30.2" fill="none"/>
<text x="235.0" y="486.5" text-anchor="middle" font-family='"Liberation Sans", sans-serif' font-size="38.6" fill="#222">-150</text>
<text x="410.2" y="486.5" text-anchor="middle" font-family='"Liberation Sans", sans-serif' font-size="38.6" fill="#222">-100</text>
<text x="585.5" y="486.5" text-anchor="middle" font-family='"Liberation Sans", sans-serif' font-size="38.6" fill="#222">-50</text>
<text x="760.8" y="486.5" text-anchor="middle" font-family='"Liberation Sans", sans-serif' font-size="38.6" fill="#222">0</text>
<text x="936.1" y="486.5" text-anchor="middle" font-family='"Liberation Sans", sans-serif' font-size="38.6" fill="#222">50</text>
<text x="1111.4" y="486.5" text-anchor="middle" font-family='"Liberation Sans", sans-serif' font-size="38.6" fill="#222">100</text>
<text x="1286.6" y="486.5" text-anchor="middle" font-family='"Liberation Sans", sans-serif' font-size="38.6" fill="#222">150</text>
<text x="114.5" y="158.6" text-anchor="end" font-family='"Liberation Sans", sans-serif' font-size="38.6" fill="#222">20</text>
<text x="114.5" y="241.5" text-anchor="end" font-family='"Liberation Sans", sans-serif' font-size="38.6" fill="#222">0</text>
<text x="114.5" y="324.4" text-anchor="end" font-family='"Liberation Sans", sans-serif' font-size="38.6" fill="#222">-20</text>
<text x="114.5" y="407.3" text-anchor="end" font-family='"Liberation Sans", sans-serif' font-size="38.6" fill="#222">-40</text>
<text x="761" y="543.5" text-anchor="middle" font-family='"Liberation Sans", sans-serif' font-size="42.8" fill="#222">Azimuth (º)</text>
<text transform="translate(36.3,269.6) rotate(-90)" text-anchor="middle" font-family='"Liberation Sans", sans-serif' font-size="42.8" fill="#222">Gain (dBi)</text>
<path d="M448,502.0V433.7M439.5,449.2L448,433.2L456.5,449.2" stroke="#000" stroke-width="2.8" fill="none"/>
<rect x="297" y="502.0" width="305.5" height="55" fill="#fff" stroke="#000" stroke-width="2.9"/>
<text x="320.5" y="542.5" font-family='"Liberation Serif", serif' font-size="41.1" fill="#000" stroke="#000" stroke-width="0.4">Ref. 2 direction</text>
<path d="M1073.7,505.5V438.5M1065.2,454.0L1073.7,438.0L1082.2,454.0" stroke="#000" stroke-width="2.8" fill="none"/>
<rect x="923" y="505.5" width="305" height="55" fill="#fff" stroke="#000" stroke-width="2.9"/>
<text x="945.5" y="546.0" font-family='"Liberation Serif", serif' font-size="41.1" fill="#000" stroke="#000" stroke-width="0.4">Ref. 1 direction</text>
<text x="761" y="614.4" text-anchor="middle" font-family='"Liberation Sans", sans-serif' font-weight="700" font-size="42.62" fill="#000">Reference and surveillance synthesized beam patterns</text>
<text x="761" y="667.7" text-anchor="middle" font-family='"Liberation Sans", sans-serif' font-weight="700" font-size="42.62" fill="#000">for eNodeB 2 signal (Reference signal 2)</text>
<path d="M235.0,680.0V1011.7M410.2,680.0V1011.7M585.5,680.0V1011.7M760.8,680.0V1011.7M936.1,680.0V1011.7M1111.4,680.0V1011.7M1286.6,680.0V1011.7M129.8,721.5H1391.8M129.8,804.4H1391.8M129.8,887.3H1391.8M129.8,970.2H1391.8" stroke="#d8d8d8" stroke-width="1.5" fill="none" style="mix-blend-mode:multiply"/>
<g clip-path="url(#cp1)" fill="none" stroke-linejoin="round" stroke-linecap="butt">
<path d="M171.9,978.5 171.4,973.5 171,948.6 170.6,934.1 170.1,923.8 169.7,915.8 169.2,909.4 168.8,903.9 168.4,899.1 167.9,895 167.5,891.3 167,887.9 166.6,884.9 166.2,882.1 165.7,879.5 165.3,877.1 164.9,874.8 164.4,872.7 164,870.8 163.5,868.9 163.1,867.1 161.4,860.9 159.6,855.7 157.8,851.3 156.1,847.4 154.3,844 152.6,841 150.8,838.3 149.1,835.8 147.3,833.6 145.6,831.6 143.8,829.7 142.1,828 140.3,826.4 138.6,825 136.8,823.6 135.1,822.4 133.3,821.2 131.6,820.2 129.8,819.2" stroke="#0072BD" stroke-width="11" stroke-dasharray="11.70 11.50" stroke-dashoffset="5.85"/>
<path d="M171.9,978.5 172.3,973.4 172.7,948.3 173.2,933.6 173.6,923.2 174.1,915.1 174.5,908.5 174.9,902.8 175.4,898 175.8,893.7 176.2,889.8 176.7,886.3 177.1,883.1 177.6,880.2 178,877.4 178.4,874.9 178.9,872.5 179.3,870.2 179.8,868.1 180.2,866.1 180.6,864.2 182.4,857.4 184.1,851.6 185.9,846.6 187.6,842.1 189.4,838.1 191.1,834.5 192.9,831.2 194.7,828.1 196.4,825.3 198.2,822.6 199.9,820.2 201.7,817.8 203.4,815.6 205.2,813.6 206.9,811.6 208.7,809.7 210.4,808 212.2,806.3 213.9,804.6 215.7,803.1 217.4,801.6 219.2,800.2 220.9,798.8 222.7,797.5 224.4,796.3 226.2,795.1 228,793.9 229.7,792.8 231.5,791.7 233.2,790.6 235,789.6 236.7,788.6 238.5,787.7 240.2,786.8 242,785.9 243.7,785.1 245.5,784.2 247.2,783.4 249,782.7 250.7,781.9 252.5,781.2 254.2,780.5 256,779.8 257.8,779.2 259.5,778.5 261.3,777.9 263,777.3 264.8,776.7 266.5,776.2 268.3,775.6 270,775.1 271.8,774.6 273.5,774.1 275.3,773.6 277,773.2 278.8,772.7 280.5,772.3 282.3,771.9 284,771.5 285.8,771.1 287.6,770.7 289.3,770.3 291.1,770 292.8,769.6 294.6,769.3 296.3,769 298.1,768.7 299.8,768.4 301.6,768.1 303.3,767.8 305.1,767.5 306.8,767.3 308.6,767 310.3,766.8 312.1,766.5 313.8,766.3 315.6,766.1 317.3,765.9 319.1,765.7 320.9,765.5 322.6,765.3 324.4,765.1 326.1,764.9 327.9,764.8 329.6,764.6 331.4,764.5 333.1,764.3 334.9,764.2 336.6,764 338.4,763.9 340.1,763.8 341.9,763.7 343.6,763.6 345.4,763.5 347.1,763.4 348.9,763.3 350.6,763.2 352.4,763.1 354.2,763 355.9,762.9 357.7,762.8 359.4,762.8 361.2,762.7 362.9,762.6 364.7,762.6 366.4,762.5 368.2,762.4 369.9,762.4 371.7,762.3 373.4,762.3 375.2,762.2 376.9,762.2 378.7,762.2 380.4,762.1 382.2,762.1 384,762.1 385.7,762 387.5,762 389.2,762 391,761.9 392.7,761.9 394.5,761.9 396.2,761.9 398,761.9 399.7,761.8 401.5,761.8 403.2,761.8 405,761.8 406.7,761.8 408.5,761.8 410.2,761.8 412,761.7 413.8,761.7 415.5,761.7 417.3,761.7 419,761.7 420.8,761.7 422.5,761.7 424.3,761.7 426,761.7 427.8,761.7 429.5,761.7 431.3,761.7 433,761.7 434.8,761.7 436.5,761.7 438.3,761.7 440,761.7 441.8,761.7 443.5,761.7 445.3,761.7 447.1,761.7 448.8,761.7 450.6,761.7 452.3,761.7 454.1,761.7 455.8,761.7 457.6,761.7 459.3,761.7 461.1,761.7 462.8,761.7 464.6,761.7 466.3,761.7 468.1,761.7 469.8,761.7 471.6,761.7 473.3,761.7 475.1,761.7 476.8,761.7 478.6,761.7 480.4,761.8 482.1,761.8 483.9,761.8 485.6,761.8 487.4,761.8 489.1,761.8 490.9,761.8 492.6,761.9 494.4,761.9 496.1,761.9 497.9,761.9 499.6,761.9 501.4,762 503.1,762 504.9,762 506.6,762.1 508.4,762.1 510.2,762.1 511.9,762.2 513.7,762.2 515.4,762.2 517.2,762.3 518.9,762.3 520.7,762.4 522.4,762.4 524.2,762.5 525.9,762.6 527.7,762.6 529.4,762.7 531.2,762.8 532.9,762.8 534.7,762.9 536.4,763 538.2,763.1 540,763.2 541.7,763.3 543.5,763.4 545.2,763.5 547,763.6 548.7,763.7 550.5,763.8 552.2,763.9 554,764 555.7,764.2 557.5,764.3 559.2,764.5 561,764.6 562.7,764.8 564.5,764.9 566.2,765.1 568,765.3 569.7,765.5 571.5,765.7 573.3,765.9 575,766.1 576.8,766.3 578.5,766.5 580.3,766.8 582,767 583.8,767.3 585.5,767.5 587.3,767.8 589,768.1 590.8,768.4 592.5,768.7 594.3,769 596,769.3 597.8,769.6 599.5,770 601.3,770.3 603,770.7 604.8,771.1 606.6,771.5 608.3,771.9 610.1,772.3 611.8,772.7 613.6,773.2 615.3,773.6 617.1,774.1 618.8,774.6 620.6,775.1 622.3,775.6 624.1,776.2 625.8,776.7 627.6,777.3 629.3,777.9 631.1,778.5 632.8,779.2 634.6,779.8 636.4,780.5 638.1,781.2 639.9,781.9 641.6,782.7 643.4,783.4 645.1,784.2 646.9,785.1 648.6,785.9 650.4,786.8 652.1,787.7 653.9,788.6 655.6,789.6 657.4,790.6 659.1,791.7 660.9,792.8 662.6,793.9 664.4,795.1 666.2,796.3 667.9,797.5 669.7,798.8 671.4,800.2 673.2,801.6 674.9,803.1 676.7,804.6 678.4,806.3 680.2,808 681.9,809.7 683.7,811.6 685.4,813.6 687.2,815.6 688.9,817.8 690.7,820.2 692.4,822.6 694.2,825.3 695.9,828.1 697.7,831.2 699.5,834.5 701.2,838.1 703,842.1 704.7,846.6 706.5,851.6 708.2,857.4 710,864.2 710.4,866.1 710.8,868.1 711.3,870.2 711.7,872.5 712.2,874.9 712.6,877.4 713,880.2 713.5,883.1 713.9,886.3 714.4,889.8 714.8,893.7 715.2,898 715.7,902.8 716.1,908.5 716.5,915.1 717,923.2 717.4,933.6 717.9,948.3 718.3,973.4 718.7,974.4" stroke="#0072BD" stroke-width="11" stroke-dasharray="11.76 11.55" stroke-dashoffset="5.88"/>
<path d="M718.7,974.4 719.2,973.5 719.6,948.6 720,934.1 720.5,923.8 720.9,915.8 721.4,909.4 721.8,903.9 722.2,899.1 722.7,895 723.1,891.3 723.6,887.9 724,884.9 724.4,882.1 724.9,879.5 725.3,877.1 725.7,874.8 726.2,872.7 726.6,870.8 727.1,868.9 727.5,867.1 729.2,860.9 731,855.7 732.8,851.3 734.5,847.4 736.3,844 738,841 739.8,838.3 741.5,835.8 743.3,833.6 745,831.6 746.8,829.7 748.5,828 750.3,826.4 752,825 753.8,823.6 755.5,822.4 757.3,821.2 759,820.2 760.8,819.2 762.6,818.3 764.3,817.5 766.1,816.7 767.8,816 769.6,815.4 771.3,814.8 773.1,814.3 774.8,813.8 776.6,813.3 778.3,813 780.1,812.6 781.8,812.3 783.6,812.1 785.3,811.8 787.1,811.7 788.8,811.5 790.6,811.4 792.3,811.4 794.1,811.3 795.9,811.4 797.6,811.4 799.4,811.5 801.1,811.6 802.9,811.7 804.6,811.9 806.4,812.1 808.1,812.4 809.9,812.6 811.6,812.9 813.4,813.3 815.1,813.7 816.9,814.1 818.6,814.5 820.4,814.9 822.1,815.4 823.9,816 825.7,816.5 827.4,817.1 829.2,817.7 830.9,818.4 832.7,819.1 834.4,819.8 836.2,820.5 837.9,821.3 839.7,822.1 841.4,823 843.2,823.9 844.9,824.8 846.7,825.8 848.4,826.8 850.2,827.8 851.9,828.9 853.7,830 855.4,831.2 857.2,832.4 859,833.6 860.7,834.9 862.5,836.3 864.2,837.7 866,839.1 867.7,840.6 869.5,842.2 871.2,843.8 873,845.5 874.7,847.2 876.5,849.1 878.2,851 880,853 881.7,855 883.5,857.2 885.2,859.5 887,861.9 888.8,864.4 890.5,867.1 892.3,869.9 894,872.9 895.8,876.1 897.5,879.5 899.3,883.2 901,887.2 902.8,891.6 904.5,896.4 906.3,901.8 908,908 909.8,915.2 911.5,923.9 913.3,934.9 915,950.2 916.8,975.9 916.9,1043.2 918.6,1043.2" stroke="#0072BD" stroke-width="11" stroke-dasharray="11.35 11.16" stroke-dashoffset="0.00"/>
<path d="M918.6,1043.2 920.2,1043.2 920.3,977.3 922.1,953.1 923.8,939.3 925.6,929.7 927.3,922.5 929.1,916.7 930.8,912 932.6,908.1 934.3,904.7 936.1,901.8 937.8,899.3 939.6,897 941.3,895.1 943.1,893.4 944.8,891.9 946.6,890.5 948.3,889.4 950.1,888.3 951.9,887.5 953.6,886.7 955.4,886 957.1,885.4 958.9,885 960.6,884.6 962.4,884.3 964.1,884.1 965.9,884 967.6,883.9 969.4,883.9 971.1,884 972.9,884.1 974.6,884.3 976.4,884.6 978.1,884.9 979.9,885.3 981.6,885.7 983.4,886.2 985.2,886.8 986.9,887.4 988.7,888.1 990.4,888.8 992.2,889.6 993.9,890.4 995.7,891.3 997.4,892.3 999.2,893.3 1000.9,894.3 1002.7,895.5 1004.4,896.7 1006.2,897.9 1007.9,899.2 1009.7,900.6 1011.4,902.1 1013.2,903.6 1015,905.2 1016.7,906.8 1018.5,908.6 1020.2,910.4 1022,912.3 1023.7,914.3 1025.5,916.4 1027.2,918.6 1029,920.9 1030.7,923.3 1032.5,925.9 1034.2,928.5 1036,931.3 1037.7,934.3 1039.5,937.4 1041.2,940.7 1043,944.2 1044.8,947.9 1046.5,951.8 1048.3,956 1050,960.5 1051.8,965.3 1053.5,970.5 1055.3,976.1 1057,982.2 1058.8,989 1060.5,996.5 1062.3,1004.9 1064,1014.4 1065.8,1025.5 1067.5,1038.5 1068,1043.2 1076.3,1043.2" stroke="#0072BD" stroke-width="11" stroke-dasharray="11.74 11.54" stroke-dashoffset="5.87"/>
<path d="M1076.3,1043.2 1084.6,1043.2 1085.1,1038.5 1086.8,1025.5 1088.6,1014.4 1090.3,1004.9 1092.1,996.5 1093.8,989 1095.6,982.2 1097.3,976.1 1099.1,970.5 1100.8,965.3 1102.6,960.5 1104.3,956 1106.1,951.8 1107.8,947.9 1109.6,944.2 1111.4,940.7 1113.1,937.4 1114.9,934.3 1116.6,931.3 1118.4,928.5 1120.1,925.9 1121.9,923.3 1123.6,920.9 1125.4,918.6 1127.1,916.4 1128.9,914.3 1130.6,912.3 1132.4,910.4 1134.1,908.6 1135.9,906.8 1137.6,905.2 1139.4,903.6 1141.2,902.1 1142.9,900.6 1144.7,899.2 1146.4,897.9 1148.2,896.7 1149.9,895.5 1151.7,894.3 1153.4,893.3 1155.2,892.3 1156.9,891.3 1158.7,890.4 1160.4,889.6 1162.2,888.8 1163.9,888.1 1165.7,887.4 1167.4,886.8 1169.2,886.2 1171,885.7 1172.7,885.3 1174.5,884.9 1176.2,884.6 1178,884.3 1179.7,884.1 1181.5,884 1183.2,883.9 1185,883.9 1186.7,884 1188.5,884.1 1190.2,884.3 1192,884.6 1193.7,885 1195.5,885.4 1197.2,886 1199,886.7 1200.7,887.5 1202.5,888.3 1204.3,889.4 1206,890.5 1207.8,891.9 1209.5,893.4 1211.3,895.1 1213,897 1214.8,899.3 1216.5,901.8 1218.3,904.7 1220,908.1 1221.8,912 1223.5,916.7 1225.3,922.5 1227,929.7 1228.8,939.3 1230.5,953.1 1232.3,977.3 1232.4,1043.2 1234,1043.2" stroke="#0072BD" stroke-width="11" stroke-dasharray="11.74 11.54" stroke-dashoffset="5.87"/>
<path d="M1234,1043.2 1235.7,1043.2 1235.8,975.9 1237.6,950.2 1239.3,934.9 1241.1,923.9 1242.8,915.2 1244.6,908 1246.3,901.8 1248.1,896.4 1249.8,891.6 1251.6,887.2 1253.3,883.2 1255.1,879.5 1256.8,876.1 1258.6,872.9 1260.3,869.9 1262.1,867.1 1263.8,864.4 1265.6,861.9 1267.4,859.5 1269.1,857.2 1270.9,855 1272.6,853 1274.4,851 1276.1,849.1 1277.9,847.2 1279.6,845.5 1281.4,843.8 1283.1,842.2 1284.9,840.6 1286.6,839.1 1288.4,837.7 1290.1,836.3 1291.9,834.9 1293.6,833.6 1295.4,832.4 1297.1,831.2 1298.9,830 1300.7,828.9 1302.4,827.8 1304.2,826.8 1305.9,825.8 1307.7,824.8 1309.4,823.9 1311.2,823 1312.9,822.1 1314.7,821.3 1316.4,820.5 1318.2,819.8 1319.9,819.1 1321.7,818.4 1323.4,817.7 1325.2,817.1 1326.9,816.5 1328.7,816 1330.5,815.4 1332.2,814.9 1334,814.5 1335.7,814.1 1337.5,813.7 1339.2,813.3 1341,812.9 1342.7,812.6 1344.5,812.4 1346.2,812.1 1348,811.9 1349.7,811.7 1351.5,811.6 1353.2,811.5 1355,811.4 1356.7,811.4 1358.5,811.3 1360.2,811.4 1362,811.4 1363.8,811.5 1365.5,811.7 1367.3,811.8 1369,812.1 1370.8,812.3 1372.5,812.6 1374.3,813 1376,813.3 1377.8,813.8 1379.5,814.3 1381.3,814.8 1383,815.4 1384.8,816 1386.5,816.7 1388.3,817.5 1390,818.3 1391.8,819.2" stroke="#0072BD" stroke-width="11" stroke-dasharray="11.70 11.50" stroke-dashoffset="5.85"/>
<circle cx="171.9" cy="978.5" r="5.5" fill="#0072BD" stroke="none"/>
<path d="M129.8,819.7 131.6,818.8 133.3,817.9 135.1,817.2 136.8,816.5 138.6,815.8 140.3,815.2 142.1,814.7 143.8,814.2 145.6,813.8 147.3,813.4 149.1,813.1 150.8,812.8 152.6,812.5 154.3,812.3 156.1,812.1 157.8,812 159.6,811.9 161.4,811.8 163.1,811.8 164.9,811.8 166.6,811.9 168.4,811.9 170.1,812 171.9,812.2 173.6,812.4 175.4,812.6 177.1,812.8 178.9,813.1 180.6,813.4 182.4,813.7 184.1,814.1 185.9,814.5 187.6,814.9 189.4,815.4 191.1,815.9 192.9,816.4 194.7,817 196.4,817.6 198.2,818.2 199.9,818.8 201.7,819.5 203.4,820.2 205.2,821 206.9,821.8 208.7,822.6 210.4,823.4 212.2,824.3 213.9,825.3 215.7,826.2 217.4,827.2 219.2,828.3 220.9,829.3 222.7,830.5 224.4,831.6 226.2,832.8 228,834.1 229.7,835.4 231.5,836.7 233.2,838.1 235,839.6 236.7,841.1 238.5,842.6 240.2,844.2 242,845.9 243.7,847.7 245.5,849.5 247.2,851.4 249,853.4 250.7,855.5 252.5,857.7 254.2,859.9 256,862.3 257.8,864.9 259.5,867.5 261.3,870.3 263,873.3 264.8,876.5 266.5,879.9 268.3,883.6 270,887.6 271.8,892 273.5,896.8 275.3,902.3 277,908.4 278.8,915.7 280.5,924.3 282.3,935.4 284,950.7 285.8,976.3 285.9,1043.2 287.6,1043.2 289.2,1043.2 289.3,977.8 291.1,953.6 292.8,939.8 294.6,930.2 296.3,922.9 298.1,917.2 299.8,912.5 301.6,908.5 303.3,905.1 305.1,902.2 306.8,899.7 308.6,897.5 310.3,895.6 312.1,893.8 313.8,892.3 315.6,891 317.3,889.8 319.1,888.8 320.9,887.9 322.6,887.1 324.4,886.5 326.1,885.9 327.9,885.4 329.6,885.1 331.4,884.8 333.1,884.6 334.9,884.4 336.6,884.4 338.4,884.4 340.1,884.4 341.9,884.6 343.6,884.8 345.4,885 347.1,885.4 348.9,885.8 350.6,886.2 352.4,886.7 354.2,887.2 355.9,887.9 357.7,888.5 359.4,889.3 361.2,890 362.9,890.9 364.7,891.8 366.4,892.7 368.2,893.7 369.9,894.8 371.7,895.9 373.4,897.1 375.2,898.4 376.9,899.7 378.7,901.1 380.4,902.5 382.2,904 384,905.6 385.7,907.3 387.5,909 389.2,910.9 391,912.8 392.7,914.8 394.5,916.9 396.2,919.1 398,921.4 399.7,923.8 401.5,926.3 403.2,929 405,931.8 406.7,934.7 408.5,937.9 410.2,941.1 412,944.6 413.8,948.3 415.5,952.2 417.3,956.4 419,960.9 420.8,965.7 422.5,970.9 424.3,976.6 426,982.7 427.8,989.5 429.5,996.9 431.3,1005.3 433,1014.9 434.8,1025.9 436.5,1039 437,1043.2 445.3,1043.2 453.6,1043.2 454.1,1039 455.8,1025.9 457.6,1014.9 459.3,1005.3 461.1,996.9 462.8,989.5 464.6,982.7 466.3,976.6 468.1,970.9 469.8,965.7 471.6,960.9 473.3,956.4 475.1,952.2 476.8,948.3 478.6,944.6 480.4,941.1 482.1,937.9 483.9,934.7 485.6,931.8 487.4,929 489.1,926.3 490.9,923.8 492.6,921.4 494.4,919.1 496.1,916.9 497.9,914.8 499.6,912.8 501.4,910.9 503.1,909 504.9,907.3 506.6,905.6 508.4,904 510.2,902.5 511.9,901.1 513.7,899.7 515.4,898.4 517.2,897.1 518.9,895.9 520.7,894.8 522.4,893.7 524.2,892.7 525.9,891.8 527.7,890.9 529.4,890 531.2,889.3 532.9,888.5 534.7,887.9 536.4,887.2 538.2,886.7 540,886.2 541.7,885.8 543.5,885.4 545.2,885 547,884.8 548.7,884.6 550.5,884.4 552.2,884.4 554,884.4 555.7,884.4 557.5,884.6 559.2,884.8 561,885.1 562.7,885.4 564.5,885.9 566.2,886.5 568,887.1 569.7,887.9 571.5,888.8 573.3,889.8 575,891 576.8,892.3 578.5,893.8 580.3,895.6 582,897.5 583.8,899.7 585.5,902.2 587.3,905.1 589,908.5 590.8,912.5 592.5,917.2 594.3,922.9 596,930.2 597.8,939.8 599.5,953.6 601.3,977.8 601.4,1043.2 603,1043.2 604.7,1043.2 604.8,976.3 606.6,950.7 608.3,935.4 610.1,924.3 611.8,915.7 613.6,908.4 615.3,902.3 617.1,896.8 618.8,892 620.6,887.6 622.3,883.6 624.1,879.9 625.8,876.5 627.6,873.3 629.3,870.3 631.1,867.5 632.8,864.9 634.6,862.3 636.4,859.9 638.1,857.7 639.9,855.5 641.6,853.4 643.4,851.4 645.1,849.5 646.9,847.7 648.6,845.9 650.4,844.2 652.1,842.6 653.9,841.1 655.6,839.6 657.4,838.1 659.1,836.7 660.9,835.4 662.6,834.1 664.4,832.8 666.2,831.6 667.9,830.5 669.7,829.3 671.4,828.3 673.2,827.2 674.9,826.2 676.7,825.3 678.4,824.3 680.2,823.4 681.9,822.6 683.7,821.8 685.4,821 687.2,820.2 688.9,819.5 690.7,818.8 692.4,818.2 694.2,817.6 695.9,817 697.7,816.4 699.5,815.9 701.2,815.4 703,814.9 704.7,814.5 706.5,814.1 708.2,813.7 710,813.4 711.7,813.1 713.5,812.8 715.2,812.6 717,812.4 718.7,812.2 720.5,812 722.2,811.9 724,811.9 725.7,811.8 727.5,811.8 729.2,811.8 731,811.9 732.8,812 734.5,812.1 736.3,812.3 738,812.5 739.8,812.8 741.5,813.1 743.3,813.4 745,813.8 746.8,814.2 748.5,814.7 750.3,815.2 752,815.8 753.8,816.5 755.5,817.2 757.3,817.9 759,818.8 760.8,819.7 762.6,820.6 764.3,821.7 766.1,822.8 767.8,824.1 769.6,825.4 771.3,826.9 773.1,828.5 774.8,830.2 776.6,832 778.3,834.1 780.1,836.3 781.8,838.7 783.6,841.5 785.3,844.5 787.1,847.9 788.8,851.8 790.6,856.2 792.3,861.4 794.1,867.6 794.5,869.4 795,871.2 795.4,873.2 795.9,875.3 796.3,877.5 796.7,879.9 797.2,882.5 797.6,885.3 798,888.4 798.5,891.7 798.9,895.4 799.4,899.6 799.8,904.3 800.2,909.8 800.7,916.3 801.1,924.3 801.6,934.5 802,949.1 802.4,974 802.9,978.5 803.3,973.8 803.7,948.8 804.2,934.1 804.6,923.7 805.1,915.6 805.5,908.9 805.9,903.3 806.4,898.4 806.8,894.1 807.2,890.3 807.7,886.8 808.1,883.6 808.6,880.6 809,877.9 809.4,875.3 809.9,872.9 810.3,870.7 810.8,868.6 811.2,866.6 811.6,864.6 813.4,857.8 815.1,852.1 816.9,847 818.6,842.6 820.4,838.6 822.1,834.9 823.9,831.6 825.7,828.6 827.4,825.7 829.2,823.1 830.9,820.6 832.7,818.3 834.4,816.1 836.2,814 837.9,812.1 839.7,810.2 841.4,808.4 843.2,806.7 844.9,805.1 846.7,803.6 848.4,802.1 850.2,800.7 851.9,799.3 853.7,798 855.4,796.7 857.2,795.5 859,794.3 860.7,793.2 862.5,792.1 864.2,791.1 866,790.1 867.7,789.1 869.5,788.2 871.2,787.2 873,786.4 874.7,785.5 876.5,784.7 878.2,783.9 880,783.1 881.7,782.4 883.5,781.7 885.2,781 887,780.3 888.8,779.6 890.5,779 892.3,778.4 894,777.8 895.8,777.2 897.5,776.6 899.3,776.1 901,775.6 902.8,775.1 904.5,774.6 906.3,774.1 908,773.6 909.8,773.2 911.5,772.7 913.3,772.3 915,771.9 916.8,771.5 918.6,771.1 920.3,770.8 922.1,770.4 923.8,770.1 925.6,769.7 927.3,769.4 929.1,769.1 930.8,768.8 932.6,768.5 934.3,768.2 936.1,768 937.8,767.7 939.6,767.5 941.3,767.2 943.1,767 944.8,766.8 946.6,766.5 948.3,766.3 950.1,766.1 951.9,765.9 953.6,765.8 955.4,765.6 957.1,765.4 958.9,765.2 960.6,765.1 962.4,764.9 964.1,764.8 965.9,764.6 967.6,764.5 969.4,764.4 971.1,764.3 972.9,764.1 974.6,764 976.4,763.9 978.1,763.8 979.9,763.7 981.6,763.6 983.4,763.5 985.2,763.4 986.9,763.4 988.7,763.3 990.4,763.2 992.2,763.1 993.9,763.1 995.7,763 997.4,763 999.2,762.9 1000.9,762.8 1002.7,762.8 1004.4,762.7 1006.2,762.7 1007.9,762.7 1009.7,762.6 1011.4,762.6 1013.2,762.5 1015,762.5 1016.7,762.5 1018.5,762.5 1020.2,762.4 1022,762.4 1023.7,762.4 1025.5,762.4 1027.2,762.3 1029,762.3 1030.7,762.3 1032.5,762.3 1034.2,762.3 1036,762.2 1037.7,762.2 1039.5,762.2 1041.2,762.2 1043,762.2 1044.8,762.2 1046.5,762.2 1048.3,762.2 1050,762.2 1051.8,762.2 1053.5,762.2 1055.3,762.2 1057,762.1 1058.8,762.1 1060.5,762.1 1062.3,762.1 1064,762.1 1065.8,762.1 1067.5,762.1 1069.3,762.1 1071,762.1 1072.8,762.1 1074.5,762.1 1076.3,762.1 1078.1,762.1 1079.8,762.1 1081.6,762.1 1083.3,762.1 1085.1,762.1 1086.8,762.1 1088.6,762.1 1090.3,762.1 1092.1,762.1 1093.8,762.1 1095.6,762.1 1097.3,762.2 1099.1,762.2 1100.8,762.2 1102.6,762.2 1104.3,762.2 1106.1,762.2 1107.8,762.2 1109.6,762.2 1111.4,762.2 1113.1,762.2 1114.9,762.2 1116.6,762.2 1118.4,762.3 1120.1,762.3 1121.9,762.3 1123.6,762.3 1125.4,762.3 1127.1,762.4 1128.9,762.4 1130.6,762.4 1132.4,762.4 1134.1,762.5 1135.9,762.5 1137.6,762.5 1139.4,762.5 1141.2,762.6 1142.9,762.6 1144.7,762.7 1146.4,762.7 1148.2,762.7 1149.9,762.8 1151.7,762.8 1153.4,762.9 1155.2,763 1156.9,763 1158.7,763.1 1160.4,763.1 1162.2,763.2 1163.9,763.3 1165.7,763.4 1167.4,763.4 1169.2,763.5 1171,763.6 1172.7,763.7 1174.5,763.8 1176.2,763.9 1178,764 1179.7,764.1 1181.5,764.3 1183.2,764.4 1185,764.5 1186.7,764.6 1188.5,764.8 1190.2,764.9 1192,765.1 1193.7,765.2 1195.5,765.4 1197.2,765.6 1199,765.8 1200.7,765.9 1202.5,766.1 1204.3,766.3 1206,766.5 1207.8,766.8 1209.5,767 1211.3,767.2 1213,767.5 1214.8,767.7 1216.5,768 1218.3,768.2 1220,768.5 1221.8,768.8 1223.5,769.1 1225.3,769.4 1227,769.7 1228.8,770.1 1230.5,770.4 1232.3,770.8 1234,771.1 1235.8,771.5 1237.6,771.9 1239.3,772.3 1241.1,772.7 1242.8,773.2 1244.6,773.6 1246.3,774.1 1248.1,774.6 1249.8,775.1 1251.6,775.6 1253.3,776.1 1255.1,776.6 1256.8,777.2 1258.6,777.8 1260.3,778.4 1262.1,779 1263.8,779.6 1265.6,780.3 1267.4,781 1269.1,781.7 1270.9,782.4 1272.6,783.1 1274.4,783.9 1276.1,784.7 1277.9,785.5 1279.6,786.4 1281.4,787.2 1283.1,788.2 1284.9,789.1 1286.6,790.1 1288.4,791.1 1290.1,792.1 1291.9,793.2 1293.6,794.3 1295.4,795.5 1297.1,796.7 1298.9,798 1300.7,799.3 1302.4,800.7 1304.2,802.1 1305.9,803.6 1307.7,805.1 1309.4,806.7 1311.2,808.4 1312.9,810.2 1314.7,812.1 1316.4,814 1318.2,816.1 1319.9,818.3 1321.7,820.6 1323.4,823.1 1325.2,825.7 1326.9,828.6 1328.7,831.6 1330.5,834.9 1332.2,838.6 1334,842.6 1335.7,847 1337.5,852.1 1339.2,857.8 1341,864.6 1341.4,866.6 1341.8,868.6 1342.3,870.7 1342.7,872.9 1343.2,875.3 1343.6,877.9 1344,880.6 1344.5,883.6 1344.9,886.8 1345.4,890.3 1345.8,894.1 1346.2,898.4 1346.7,903.3 1347.1,908.9 1347.5,915.6 1348,923.7 1348.4,934.1 1348.9,948.8 1349.3,973.8 1349.7,978.5 1350.2,974 1350.6,949.1 1351,934.5 1351.5,924.3 1351.9,916.3 1352.4,909.8 1352.8,904.3 1353.2,899.6 1353.7,895.4 1354.1,891.7 1354.6,888.4 1355,885.3 1355.4,882.5 1355.9,879.9 1356.3,877.5 1356.7,875.3 1357.2,873.2 1357.6,871.2 1358.1,869.4 1358.5,867.6 1360.2,861.4 1362,856.2 1363.8,851.8 1365.5,847.9 1367.3,844.5 1369,841.5 1370.8,838.7 1372.5,836.3 1374.3,834.1 1376,832 1377.8,830.2 1379.5,828.5 1381.3,826.9 1383,825.4 1384.8,824.1 1386.5,822.8 1388.3,821.7 1390,820.6 1391.8,819.7" stroke="#D95319" stroke-width="7.2"/>
<path d="M129.8,802.6 131.6,804 133.3,805.4 135.1,806.8 136.8,808.4 138.6,810 140.3,811.6 142.1,813.4 143.8,815.2 145.6,817.1 147.3,819.1 149.1,821.2 150.8,823.4 152.6,825.8 154.3,828.3 156.1,831 157.8,833.9 159.6,836.9 161.4,840.3 163.1,843.9 164.9,847.9 166.6,852.3 168.4,857.3 170.1,863 171.5,868.2 171.9,869.6 172,870 172.4,871.9 172.8,873.8 173.3,875.9 173.6,877.7 173.7,878.1 174.1,880.4 174.6,882.9 175,885.5 175.4,887.8 175.5,888.4 175.9,891.4 176.3,894.8 176.8,898.4 177.1,901.6 177.2,902.5 177.7,907 178.1,912.2 178.5,918.2 178.9,923.8 179,925.3 180.3,931.3 182.9,927.8 183.3,920.5 183.8,914.5 184.1,910.3 184.2,909.3 184.7,904.9 185.1,900.9 185.5,897.4 185.9,894.8 186,894.2 186.4,891.2 186.9,888.5 187.3,886 187.6,884.2 187.7,883.7 188.2,881.6 188.6,879.5 189,877.6 189.4,876.2 191.1,869.8 192.9,864.5 194.7,860 196.4,856.1 198.2,852.6 199.9,849.6 201.7,846.9 203.4,844.5 205.2,842.2 206.9,840.2 208.7,838.4 210.4,836.7 212.2,835.2 213.9,833.7 215.7,832.4 217.4,831.2 219.2,830.1 220.9,829.1 222.7,828.1 224.4,827.2 226.2,826.4 228,825.7 229.7,825 231.5,824.4 233.2,823.8 235,823.3 236.7,822.8 238.5,822.4 240.2,822 242,821.6 243.7,821.3 245.5,821.1 247.2,820.8 249,820.7 250.7,820.5 252.5,820.4 254.2,820.3 256,820.2 257.8,820.2 259.5,820.2 261.3,820.2 263,820.3 264.8,820.4 266.5,820.5 268.3,820.6 270,820.8 271.8,821 273.5,821.2 275.3,821.4 277,821.7 278.8,821.9 280.5,822.3 282.3,822.6 284,822.9 285.8,823.3 287.6,823.7 289.3,824.1 291.1,824.6 292.8,825 294.6,825.5 296.3,826 298.1,826.6 299.8,827.1 301.6,827.7 303.3,828.3 305.1,828.9 306.8,829.5 308.6,830.2 310.3,830.8 312.1,831.5 313.8,832.3 315.6,833 317.3,833.8 319.1,834.5 320.9,835.3 322.6,836.2 324.4,837 326.1,837.9 327.9,838.8 329.6,839.7 331.4,840.6 333.1,841.6 334.9,842.6 336.6,843.6 338.4,844.6 340.1,845.7 341.9,846.8 343.6,847.9 345.4,849 347.1,850.2 348.9,851.4 350.6,852.6 352.4,853.9 354.2,855.1 355.9,856.5 357.7,857.8 359.4,859.2 361.2,860.6 362.9,862 364.7,863.5 366.4,865 368.2,866.6 369.9,868.2 371.7,869.8 373.4,871.5 375.2,873.2 376.9,875 378.7,876.9 380.4,878.7 382.2,880.7 384,882.7 385.7,884.7 387.5,886.8 389.2,889 391,891.3 392.7,893.6 394.5,896 396.2,898.5 398,901.1 399.7,903.8 401.5,906.6 403.2,909.6 405,912.6 406.7,915.8 408.5,919.1 410.2,922.6 412,926.3 413.8,930.2 415.5,934.3 417.3,938.7 419,943.3 420.8,948.3 422.5,953.6 424.3,959.4 426,965.6 427.8,972.5 429.5,980.1 431.3,988.6 433,998.2 434.8,1009.3 436.5,1022.4 438.3,1038.5 438.7,1043.2 445.3,1043.2 451.9,1043.2 452.3,1038.5 454.1,1022.4 455.8,1009.3 457.6,998.2 459.3,988.6 461.1,980.1 462.8,972.5 464.6,965.6 466.3,959.4 468.1,953.6 469.8,948.3 471.6,943.3 473.3,938.7 475.1,934.3 476.8,930.2 478.6,926.3 480.4,922.6 482.1,919.1 483.9,915.8 485.6,912.6 487.4,909.6 489.1,906.6 490.9,903.8 492.6,901.1 494.4,898.5 496.1,896 497.9,893.6 499.6,891.3 501.4,889 503.1,886.8 504.9,884.7 506.6,882.7 508.4,880.7 510.2,878.7 511.9,876.9 513.7,875 515.4,873.2 517.2,871.5 518.9,869.8 520.7,868.2 522.4,866.6 524.2,865 525.9,863.5 527.7,862 529.4,860.6 531.2,859.2 532.9,857.8 534.7,856.5 536.4,855.1 538.2,853.9 540,852.6 541.7,851.4 543.5,850.2 545.2,849 547,847.9 548.7,846.8 550.5,845.7 552.2,844.6 554,843.6 555.7,842.6 557.5,841.6 559.2,840.6 561,839.7 562.7,838.8 564.5,837.9 566.2,837 568,836.2 569.7,835.3 571.5,834.5 573.3,833.8 575,833 576.8,832.3 578.5,831.5 580.3,830.8 582,830.2 583.8,829.5 585.5,828.9 587.3,828.3 589,827.7 590.8,827.1 592.5,826.6 594.3,826 596,825.5 597.8,825 599.5,824.6 601.3,824.1 603,823.7 604.8,823.3 606.6,822.9 608.3,822.6 610.1,822.3 611.8,821.9 613.6,821.7 615.3,821.4 617.1,821.2 618.8,821 620.6,820.8 622.3,820.6 624.1,820.5 625.8,820.4 627.6,820.3 629.3,820.2 631.1,820.2 632.8,820.2 634.6,820.2 636.4,820.3 638.1,820.4 639.9,820.5 641.6,820.7 643.4,820.8 645.1,821.1 646.9,821.3 648.6,821.6 650.4,822 652.1,822.4 653.9,822.8 655.6,823.3 657.4,823.8 659.1,824.4 660.9,825 662.6,825.7 664.4,826.4 666.2,827.2 667.9,828.1 669.7,829.1 671.4,830.1 673.2,831.2 674.9,832.4 676.7,833.7 678.4,835.2 680.2,836.7 681.9,838.4 683.7,840.2 685.4,842.2 687.2,844.5 688.9,846.9 690.7,849.6 692.4,852.6 694.2,856.1 695.9,860 697.7,864.5 699.5,869.8 700.9,874.8 701.2,876.2 701.3,876.5 701.7,878.4 702.2,880.3 702.6,882.4 703,884.2 703,884.6 703.5,887 703.9,889.6 704.4,892.4 704.7,894.8 704.8,895.4 705.2,898.7 705.7,902.4 706.1,906.6 706.5,910.3 706.6,911.3 707,916.7 707.4,923.2 707.9,931.2 709.6,932.1 711.4,930.4 711.7,923.8 711.8,922.3 712.2,915.6 712.7,910 713.1,905.1 713.5,901.6 713.6,900.8 714,896.9 714.4,893.4 714.9,890.2 715.2,887.8 715.3,887.2 715.8,884.4 716.2,881.9 716.6,879.5 717,877.7 717.1,877.2 717.5,875.1 717.9,873 718.4,871.1 718.7,869.6 720.5,863 722.2,857.3 724,852.3 725.7,847.9 727.5,843.9 729.2,840.3 731,836.9 732.8,833.9 734.5,831 736.3,828.3 738,825.8 739.8,823.4 741.5,821.2 743.3,819.1 745,817.1 746.8,815.2 748.5,813.4 750.3,811.6 752,810 753.8,808.4 755.5,806.8 757.3,805.4 759,804 760.8,802.6 762.6,801.3 764.3,800.1 766.1,798.9 767.8,797.7 769.6,796.6 771.3,795.5 773.1,794.5 774.8,793.5 776.6,792.5 778.3,791.6 780.1,790.7 781.8,789.8 783.6,788.9 785.3,788.1 787.1,787.3 788.8,786.6 790.6,785.9 792.3,785.2 794.1,784.5 795.9,783.8 797.6,783.2 799.4,782.6 801.1,782 802.9,781.4 804.6,780.9 806.4,780.3 808.1,779.8 809.9,779.4 811.6,778.9 813.4,778.4 815.1,778 816.9,777.6 818.6,777.2 820.4,776.8 822.1,776.5 823.9,776.1 825.7,775.8 827.4,775.5 829.2,775.2 830.9,774.9 832.7,774.7 834.4,774.4 836.2,774.2 837.9,774 839.7,773.8 841.4,773.6 843.2,773.4 844.9,773.3 846.7,773.1 848.4,773 850.2,772.9 851.9,772.8 853.7,772.7 855.4,772.6 857.2,772.5 859,772.4 860.7,772.4 862.5,772.4 864.2,772.3 866,772.3 867.7,772.3 869.5,772.3 871.2,772.4 873,772.4 874.7,772.4 876.5,772.5 878.2,772.5 880,772.6 881.7,772.7 883.5,772.8 885.2,772.9 887,773 888.8,773.1 890.5,773.2 892.3,773.4 894,773.5 895.8,773.7 897.5,773.9 899.3,774 901,774.2 902.8,774.4 904.5,774.6 906.3,774.8 908,775 909.8,775.2 911.5,775.4 913.3,775.7 915,775.9 916.8,776.2 918.6,776.4 920.3,776.7 922.1,776.9 923.8,777.2 925.6,777.5 927.3,777.8 929.1,778.1 930.8,778.4 932.6,778.7 934.3,779 936.1,779.3 937.8,779.6 939.6,779.9 941.3,780.2 943.1,780.6 944.8,780.9 946.6,781.2 948.3,781.6 950.1,781.9 951.9,782.3 953.6,782.6 955.4,783 957.1,783.3 958.9,783.7 960.6,784 962.4,784.4 964.1,784.8 965.9,785.1 967.6,785.5 969.4,785.9 971.1,786.2 972.9,786.6 974.6,787 976.4,787.3 978.1,787.7 979.9,788.1 981.6,788.4 983.4,788.8 985.2,789.2 986.9,789.5 988.7,789.9 990.4,790.3 992.2,790.6 993.9,791 995.7,791.4 997.4,791.7 999.2,792.1 1000.9,792.4 1002.7,792.8 1004.4,793.1 1006.2,793.4 1007.9,793.8 1009.7,794.1 1011.4,794.4 1013.2,794.8 1015,795.1 1016.7,795.4 1018.5,795.7 1020.2,796 1022,796.3 1023.7,796.6 1025.5,796.8 1027.2,797.1 1029,797.4 1030.7,797.6 1032.5,797.9 1034.2,798.1 1036,798.4 1037.7,798.6 1039.5,798.8 1041.2,799 1043,799.2 1044.8,799.4 1046.5,799.6 1048.3,799.8 1050,799.9 1051.8,800.1 1053.5,800.2 1055.3,800.4 1057,800.5 1058.8,800.6 1060.5,800.7 1062.3,800.8 1064,800.9 1065.8,801 1067.5,801 1069.3,801.1 1071,801.1 1072.8,801.1 1074.5,801.2 1076.3,801.2 1078.1,801.2 1079.8,801.1 1081.6,801.1 1083.3,801.1 1085.1,801 1086.8,801 1088.6,800.9 1090.3,800.8 1092.1,800.7 1093.8,800.6 1095.6,800.5 1097.3,800.4 1099.1,800.2 1100.8,800.1 1102.6,799.9 1104.3,799.8 1106.1,799.6 1107.8,799.4 1109.6,799.2 1111.4,799 1113.1,798.8 1114.9,798.6 1116.6,798.4 1118.4,798.1 1120.1,797.9 1121.9,797.6 1123.6,797.4 1125.4,797.1 1127.1,796.8 1128.9,796.6 1130.6,796.3 1132.4,796 1134.1,795.7 1135.9,795.4 1137.6,795.1 1139.4,794.8 1141.2,794.4 1142.9,794.1 1144.7,793.8 1146.4,793.4 1148.2,793.1 1149.9,792.8 1151.7,792.4 1153.4,792.1 1155.2,791.7 1156.9,791.4 1158.7,791 1160.4,790.6 1162.2,790.3 1163.9,789.9 1165.7,789.5 1167.4,789.2 1169.2,788.8 1171,788.4 1172.7,788.1 1174.5,787.7 1176.2,787.3 1178,787 1179.7,786.6 1181.5,786.2 1183.2,785.9 1185,785.5 1186.7,785.1 1188.5,784.8 1190.2,784.4 1192,784 1193.7,783.7 1195.5,783.3 1197.2,783 1199,782.6 1200.7,782.3 1202.5,781.9 1204.3,781.6 1206,781.2 1207.8,780.9 1209.5,780.6 1211.3,780.2 1213,779.9 1214.8,779.6 1216.5,779.3 1218.3,779 1220,778.7 1221.8,778.4 1223.5,778.1 1225.3,777.8 1227,777.5 1228.8,777.2 1230.5,776.9 1232.3,776.7 1234,776.4 1235.8,776.2 1237.6,775.9 1239.3,775.7 1241.1,775.4 1242.8,775.2 1244.6,775 1246.3,774.8 1248.1,774.6 1249.8,774.4 1251.6,774.2 1253.3,774 1255.1,773.9 1256.8,773.7 1258.6,773.5 1260.3,773.4 1262.1,773.2 1263.8,773.1 1265.6,773 1267.4,772.9 1269.1,772.8 1270.9,772.7 1272.6,772.6 1274.4,772.5 1276.1,772.5 1277.9,772.4 1279.6,772.4 1281.4,772.4 1283.1,772.3 1284.9,772.3 1286.6,772.3 1288.4,772.3 1290.1,772.4 1291.9,772.4 1293.6,772.4 1295.4,772.5 1297.1,772.6 1298.9,772.7 1300.7,772.8 1302.4,772.9 1304.2,773 1305.9,773.1 1307.7,773.3 1309.4,773.4 1311.2,773.6 1312.9,773.8 1314.7,774 1316.4,774.2 1318.2,774.4 1319.9,774.7 1321.7,774.9 1323.4,775.2 1325.2,775.5 1326.9,775.8 1328.7,776.1 1330.5,776.5 1332.2,776.8 1334,777.2 1335.7,777.6 1337.5,778 1339.2,778.4 1341,778.9 1342.7,779.4 1344.5,779.8 1346.2,780.3 1348,780.9 1349.7,781.4 1351.5,782 1353.2,782.6 1355,783.2 1356.7,783.8 1358.5,784.5 1360.2,785.2 1362,785.9 1363.8,786.6 1365.5,787.3 1367.3,788.1 1369,788.9 1370.8,789.8 1372.5,790.7 1374.3,791.6 1376,792.5 1377.8,793.5 1379.5,794.5 1381.3,795.5 1383,796.6 1384.8,797.7 1386.5,798.9 1388.3,800.1 1390,801.3 1391.8,802.6" stroke="#EDB120" stroke-width="7.2"/>
<path d="M129.8,779.5 131.6,780 133.3,780.5 135.1,781 136.8,781.6 138.6,782.1 140.3,782.7 142.1,783.3 143.8,783.9 145.6,784.5 147.3,785.1 149.1,785.8 150.8,786.5 152.6,787.2 154.3,787.9 156.1,788.7 157.8,789.4 159.6,790.2 161.4,791 163.1,791.9 164.9,792.7 166.6,793.6 168.4,794.5 170.1,795.4 171.9,796.4 173.6,797.3 175.4,798.4 177.1,799.4 178.9,800.4 180.6,801.5 182.4,802.6 184.1,803.8 185.9,805 187.6,806.2 189.4,807.4 191.1,808.7 192.9,810 194.7,811.4 196.4,812.8 198.2,814.2 199.9,815.7 201.7,817.2 203.4,818.8 205.2,820.4 206.9,822.1 208.7,823.8 210.4,825.6 212.2,827.4 213.9,829.3 215.7,831.3 217.4,833.4 219.2,835.5 220.9,837.8 222.7,840.1 224.4,842.6 226.2,845.1 228,847.8 229.7,850.7 231.5,853.7 233.2,856.9 235,860.3 236.7,864 238.5,868 240.2,872.3 242,877.1 243.7,882.4 245.5,888.4 247.2,895.4 247.6,897 248,899 248.5,901.1 248.9,903.3 249,903.8 249.3,905.7 249.8,908.2 250.2,910.8 250.7,913.7 250.7,914.3 251.1,916.7 251.5,920 252,923.6 252.4,927.6 252.5,928.5 252.8,932 253.3,937 253.7,942.7 254.2,949.5 254.2,951 254.6,957.7 255,968.2 255.5,983 256.4,993 257.2,983.8 257.7,969.3 257.8,967 258.1,959.2 258.5,951.3 259,944.9 259.4,939.6 259.5,938.6 259.9,934.9 260.3,930.9 260.7,927.3 261.2,924 261.3,923.4 261.6,921.1 262,918.4 262.5,915.9 262.9,913.6 263,913.2 263.4,911.5 263.8,909.5 264.2,907.6 264.7,905.9 264.8,905.5 265.1,904.2 266.5,899.5 268.3,894.6 270,890.5 271.8,886.9 273.5,883.9 275.3,881.2 277,878.9 278.8,876.8 280.5,875 282.3,873.4 284,871.9 285.8,870.7 287.6,869.5 289.3,868.5 291.1,867.6 292.8,866.8 294.6,866.1 296.3,865.4 298.1,864.9 299.8,864.5 301.6,864.1 303.3,863.8 305.1,863.5 306.8,863.3 308.6,863.2 310.3,863.1 312.1,863.1 313.8,863.1 315.6,863.2 317.3,863.4 319.1,863.5 320.9,863.7 322.6,864 324.4,864.3 326.1,864.7 327.9,865.1 329.6,865.5 331.4,866 333.1,866.5 334.9,867 336.6,867.6 338.4,868.2 340.1,868.9 341.9,869.6 343.6,870.3 345.4,871.1 347.1,871.9 348.9,872.8 350.6,873.7 352.4,874.6 354.2,875.6 355.9,876.6 357.7,877.7 359.4,878.8 361.2,879.9 362.9,881.1 364.7,882.3 366.4,883.6 368.2,884.9 369.9,886.3 371.7,887.7 373.4,889.2 375.2,890.7 376.9,892.3 378.7,893.9 380.4,895.6 382.2,897.3 384,899.1 385.7,901 387.5,903 389.2,905 391,907.1 392.7,909.3 394.5,911.6 396.2,913.9 398,916.4 399.7,919 401.5,921.6 403.2,924.5 405,927.4 406.7,930.5 408.5,933.7 410.2,937.1 412,940.7 413.8,944.5 415.5,948.5 417.3,952.8 419,957.4 420.8,962.3 422.5,967.5 424.3,973.2 426,979.5 427.8,986.3 429.5,993.8 431.3,1002.2 433,1011.8 434.8,1022.9 436.5,1036 437.3,1043.2 445.3,1043.2 453.3,1043.2 454.1,1036 455.8,1022.9 457.6,1011.8 459.3,1002.2 461.1,993.8 462.8,986.3 464.6,979.5 466.3,973.2 468.1,967.5 469.8,962.3 471.6,957.4 473.3,952.8 475.1,948.5 476.8,944.5 478.6,940.7 480.4,937.1 482.1,933.7 483.9,930.5 485.6,927.4 487.4,924.5 489.1,921.6 490.9,919 492.6,916.4 494.4,913.9 496.1,911.6 497.9,909.3 499.6,907.1 501.4,905 503.1,903 504.9,901 506.6,899.1 508.4,897.3 510.2,895.6 511.9,893.9 513.7,892.3 515.4,890.7 517.2,889.2 518.9,887.7 520.7,886.3 522.4,884.9 524.2,883.6 525.9,882.3 527.7,881.1 529.4,879.9 531.2,878.8 532.9,877.7 534.7,876.6 536.4,875.6 538.2,874.6 540,873.7 541.7,872.8 543.5,871.9 545.2,871.1 547,870.3 548.7,869.6 550.5,868.9 552.2,868.2 554,867.6 555.7,867 557.5,866.5 559.2,866 561,865.5 562.7,865.1 564.5,864.7 566.2,864.3 568,864 569.7,863.7 571.5,863.5 573.3,863.4 575,863.2 576.8,863.1 578.5,863.1 580.3,863.1 582,863.2 583.8,863.3 585.5,863.5 587.3,863.8 589,864.1 590.8,864.5 592.5,864.9 594.3,865.4 596,866.1 597.8,866.8 599.5,867.6 601.3,868.5 603,869.5 604.8,870.7 606.6,871.9 608.3,873.4 610.1,875 611.8,876.8 613.6,878.9 615.3,881.2 617.1,883.9 618.8,886.9 620.6,890.5 622.3,894.6 624.1,899.5 625.5,904.2 625.8,905.5 625.9,905.9 626.4,907.6 626.8,909.5 627.2,911.5 627.6,913.2 627.7,913.6 628.1,915.9 628.6,918.4 629,921.1 629.3,923.4 629.4,924 629.9,927.3 630.3,930.9 630.7,934.9 631.1,938.6 631.2,939.6 631.6,944.9 632.1,951.3 632.5,959.2 632.8,967 632.9,969.3 633.4,983.8 634.2,993 635.1,983 635.6,968.2 636,957.7 636.4,951 636.4,949.5 636.9,942.7 637.3,937 637.8,932 638.1,928.5 638.2,927.6 638.6,923.6 639.1,920 639.5,916.7 639.9,914.3 639.9,913.7 640.4,910.8 640.8,908.2 641.3,905.7 641.6,903.8 641.7,903.3 642.1,901.1 642.6,899 643,897 643.4,895.4 645.1,888.4 646.9,882.4 648.6,877.1 650.4,872.3 652.1,868 653.9,864 655.6,860.3 657.4,856.9 659.1,853.7 660.9,850.7 662.6,847.8 664.4,845.1 666.2,842.6 667.9,840.1 669.7,837.8 671.4,835.5 673.2,833.4 674.9,831.3 676.7,829.3 678.4,827.4 680.2,825.6 681.9,823.8 683.7,822.1 685.4,820.4 687.2,818.8 688.9,817.2 690.7,815.7 692.4,814.2 694.2,812.8 695.9,811.4 697.7,810 699.5,808.7 701.2,807.4 703,806.2 704.7,805 706.5,803.8 708.2,802.6 710,801.5 711.7,800.4 713.5,799.4 715.2,798.4 717,797.3 718.7,796.4 720.5,795.4 722.2,794.5 724,793.6 725.7,792.7 727.5,791.9 729.2,791 731,790.2 732.8,789.4 734.5,788.7 736.3,787.9 738,787.2 739.8,786.5 741.5,785.8 743.3,785.1 745,784.5 746.8,783.9 748.5,783.3 750.3,782.7 752,782.1 753.8,781.6 755.5,781 757.3,780.5 759,780 760.8,779.5 762.6,779.1 764.3,778.6 766.1,778.2 767.8,777.8 769.6,777.4 771.3,777 773.1,776.6 774.8,776.3 776.6,775.9 778.3,775.6 780.1,775.3 781.8,775 783.6,774.7 785.3,774.5 787.1,774.2 788.8,774 790.6,773.8 792.3,773.6 794.1,773.4 795.9,773.2 797.6,773 799.4,772.9 801.1,772.8 802.9,772.7 804.6,772.5 806.4,772.5 808.1,772.4 809.9,772.3 811.6,772.3 813.4,772.2 815.1,772.2 816.9,772.2 818.6,772.2 820.4,772.2 822.1,772.2 823.9,772.3 825.7,772.3 827.4,772.4 829.2,772.5 830.9,772.6 832.7,772.7 834.4,772.8 836.2,772.9 837.9,773 839.7,773.2 841.4,773.4 843.2,773.5 844.9,773.7 846.7,773.9 848.4,774.1 850.2,774.4 851.9,774.6 853.7,774.8 855.4,775.1 857.2,775.4 859,775.7 860.7,776 862.5,776.3 864.2,776.6 866,776.9 867.7,777.3 869.5,777.6 871.2,778 873,778.4 874.7,778.7 876.5,779.1 878.2,779.6 880,780 881.7,780.4 883.5,780.9 885.2,781.3 887,781.8 888.8,782.3 890.5,782.7 892.3,783.2 894,783.8 895.8,784.3 897.5,784.8 899.3,785.4 901,785.9 902.8,786.5 904.5,787.1 906.3,787.7 908,788.3 909.8,788.9 911.5,789.5 913.3,790.1 915,790.8 916.8,791.4 918.6,792.1 920.3,792.8 922.1,793.5 923.8,794.2 925.6,794.9 927.3,795.6 929.1,796.4 930.8,797.1 932.6,797.9 934.3,798.6 936.1,799.4 937.8,800.2 939.6,801 941.3,801.8 943.1,802.6 944.8,803.5 946.6,804.3 948.3,805.2 950.1,806.1 951.9,806.9 953.6,807.8 955.4,808.7 957.1,809.7 958.9,810.6 960.6,811.5 962.4,812.5 964.1,813.5 965.9,814.4 967.6,815.4 969.4,816.4 971.1,817.4 972.9,818.4 974.6,819.5 976.4,820.5 978.1,821.6 979.9,822.6 981.6,823.7 983.4,824.8 985.2,825.9 986.9,827 988.7,828.1 990.4,829.2 992.2,830.3 993.9,831.4 995.7,832.6 997.4,833.7 999.2,834.9 1000.9,836 1002.7,837.2 1004.4,838.4 1006.2,839.5 1007.9,840.7 1009.7,841.9 1011.4,843 1013.2,844.2 1015,845.4 1016.7,846.5 1018.5,847.6 1020.2,848.8 1022,849.9 1023.7,851 1025.5,852.1 1027.2,853.1 1029,854.2 1030.7,855.2 1032.5,856.2 1034.2,857.1 1036,858.1 1037.7,859 1039.5,859.8 1041.2,860.6 1043,861.4 1044.8,862.2 1046.5,862.9 1048.3,863.5 1050,864.2 1051.8,864.7 1053.5,865.3 1055.3,865.7 1057,866.2 1058.8,866.6 1060.5,867 1062.3,867.3 1064,867.6 1065.8,867.8 1067.5,868 1069.3,868.2 1071,868.3 1072.8,868.4 1074.5,868.4 1076.3,868.4 1078.1,868.4 1079.8,868.4 1081.6,868.3 1083.3,868.2 1085.1,868 1086.8,867.8 1088.6,867.6 1090.3,867.3 1092.1,867 1093.8,866.6 1095.6,866.2 1097.3,865.7 1099.1,865.3 1100.8,864.7 1102.6,864.2 1104.3,863.5 1106.1,862.9 1107.8,862.2 1109.6,861.4 1111.4,860.6 1113.1,859.8 1114.9,859 1116.6,858.1 1118.4,857.1 1120.1,856.2 1121.9,855.2 1123.6,854.2 1125.4,853.1 1127.1,852.1 1128.9,851 1130.6,849.9 1132.4,848.8 1134.1,847.6 1135.9,846.5 1137.6,845.4 1139.4,844.2 1141.2,843 1142.9,841.9 1144.7,840.7 1146.4,839.5 1148.2,838.4 1149.9,837.2 1151.7,836 1153.4,834.9 1155.2,833.7 1156.9,832.6 1158.7,831.4 1160.4,830.3 1162.2,829.2 1163.9,828.1 1165.7,827 1167.4,825.9 1169.2,824.8 1171,823.7 1172.7,822.6 1174.5,821.6 1176.2,820.5 1178,819.5 1179.7,818.4 1181.5,817.4 1183.2,816.4 1185,815.4 1186.7,814.4 1188.5,813.5 1190.2,812.5 1192,811.5 1193.7,810.6 1195.5,809.7 1197.2,808.7 1199,807.8 1200.7,806.9 1202.5,806.1 1204.3,805.2 1206,804.3 1207.8,803.5 1209.5,802.6 1211.3,801.8 1213,801 1214.8,800.2 1216.5,799.4 1218.3,798.6 1220,797.9 1221.8,797.1 1223.5,796.4 1225.3,795.6 1227,794.9 1228.8,794.2 1230.5,793.5 1232.3,792.8 1234,792.1 1235.8,791.4 1237.6,790.8 1239.3,790.1 1241.1,789.5 1242.8,788.9 1244.6,788.3 1246.3,787.7 1248.1,787.1 1249.8,786.5 1251.6,785.9 1253.3,785.4 1255.1,784.8 1256.8,784.3 1258.6,783.8 1260.3,783.2 1262.1,782.7 1263.8,782.3 1265.6,781.8 1267.4,781.3 1269.1,780.9 1270.9,780.4 1272.6,780 1274.4,779.6 1276.1,779.1 1277.9,778.7 1279.6,778.4 1281.4,778 1283.1,777.6 1284.9,777.3 1286.6,776.9 1288.4,776.6 1290.1,776.3 1291.9,776 1293.6,775.7 1295.4,775.4 1297.1,775.1 1298.9,774.8 1300.7,774.6 1302.4,774.4 1304.2,774.1 1305.9,773.9 1307.7,773.7 1309.4,773.5 1311.2,773.4 1312.9,773.2 1314.7,773 1316.4,772.9 1318.2,772.8 1319.9,772.7 1321.7,772.6 1323.4,772.5 1325.2,772.4 1326.9,772.3 1328.7,772.3 1330.5,772.2 1332.2,772.2 1334,772.2 1335.7,772.2 1337.5,772.2 1339.2,772.2 1341,772.3 1342.7,772.3 1344.5,772.4 1346.2,772.5 1348,772.5 1349.7,772.7 1351.5,772.8 1353.2,772.9 1355,773 1356.7,773.2 1358.5,773.4 1360.2,773.6 1362,773.8 1363.8,774 1365.5,774.2 1367.3,774.5 1369,774.7 1370.8,775 1372.5,775.3 1374.3,775.6 1376,775.9 1377.8,776.3 1379.5,776.6 1381.3,777 1383,777.4 1384.8,777.8 1386.5,778.2 1388.3,778.6 1390,779.1 1391.8,779.5" stroke="#7E2F8E" stroke-width="7.2"/>
<path d="M129.8,774.5 131.6,774.5 133.3,774.5 135.1,774.5 136.8,774.5 138.6,774.5 140.3,774.5 142.1,774.5 143.8,774.6 145.6,774.7 147.3,774.7 149.1,774.8 150.8,774.9 152.6,775 154.3,775.1 156.1,775.3 157.8,775.4 159.6,775.6 161.4,775.8 163.1,775.9 164.9,776.1 166.6,776.3 168.4,776.6 170.1,776.8 171.9,777 173.6,777.3 175.4,777.6 177.1,777.8 178.9,778.1 180.6,778.4 182.4,778.7 184.1,779.1 185.9,779.4 187.6,779.7 189.4,780.1 191.1,780.5 192.9,780.9 194.7,781.3 196.4,781.7 198.2,782.1 199.9,782.5 201.7,783 203.4,783.4 205.2,783.9 206.9,784.4 208.7,784.9 210.4,785.4 212.2,785.9 213.9,786.4 215.7,786.9 217.4,787.5 219.2,788 220.9,788.6 222.7,789.2 224.4,789.8 226.2,790.4 228,791 229.7,791.6 231.5,792.3 233.2,792.9 235,793.6 236.7,794.3 238.5,795 240.2,795.7 242,796.4 243.7,797.1 245.5,797.8 247.2,798.6 249,799.3 250.7,800.1 252.5,800.9 254.2,801.7 256,802.5 257.8,803.3 259.5,804.1 261.3,805 263,805.8 264.8,806.7 266.5,807.6 268.3,808.4 270,809.3 271.8,810.3 273.5,811.2 275.3,812.1 277,813.1 278.8,814 280.5,815 282.3,816 284,817 285.8,818 287.6,819 289.3,820 291.1,821.1 292.8,822.1 294.6,823.2 296.3,824.3 298.1,825.4 299.8,826.5 301.6,827.6 303.3,828.8 305.1,829.9 306.8,831.1 308.6,832.3 310.3,833.5 312.1,834.7 313.8,835.9 315.6,837.1 317.3,838.4 319.1,839.6 320.9,840.9 322.6,842.2 324.4,843.5 326.1,844.8 327.9,846.2 329.6,847.5 331.4,848.9 333.1,850.3 334.9,851.7 336.6,853.2 338.4,854.6 340.1,856.1 341.9,857.6 343.6,859.1 345.4,860.6 347.1,862.1 348.9,863.7 350.6,865.3 352.4,866.9 354.2,868.6 355.9,870.2 357.7,871.9 359.4,873.6 361.2,875.4 362.9,877.1 364.7,878.9 366.4,880.8 368.2,882.7 369.9,884.6 371.7,886.5 373.4,888.5 375.2,890.5 376.9,892.5 378.7,894.6 380.4,896.8 382.2,899 384,901.2 385.7,903.5 387.5,905.9 389.2,908.3 391,910.8 392.7,913.3 394.5,915.9 396.2,918.7 398,921.5 399.7,924.3 401.5,927.3 403.2,930.4 405,933.6 406.7,937 408.5,940.5 410.2,944.1 412,948 413.8,952 415.5,956.2 417.3,960.7 419,965.5 420.8,970.5 422.5,975.9 424.3,981.8 426,988.1 427.8,995.1 429.5,1002.7 431.3,1011.3 433,1021 434.8,1032.1 436.3,1043.2 445.3,1043.2 454.3,1043.2 455.8,1032.1 457.6,1021 459.3,1011.3 461.1,1002.7 462.8,995.1 464.6,988.1 466.3,981.8 468.1,975.9 469.8,970.5 471.6,965.5 473.3,960.7 475.1,956.2 476.8,952 478.6,948 480.4,944.1 482.1,940.5 483.9,937 485.6,933.6 487.4,930.4 489.1,927.3 490.9,924.3 492.6,921.5 494.4,918.7 496.1,915.9 497.9,913.3 499.6,910.8 501.4,908.3 503.1,905.9 504.9,903.5 506.6,901.2 508.4,899 510.2,896.8 511.9,894.6 513.7,892.5 515.4,890.5 517.2,888.5 518.9,886.5 520.7,884.6 522.4,882.7 524.2,880.8 525.9,878.9 527.7,877.1 529.4,875.4 531.2,873.6 532.9,871.9 534.7,870.2 536.4,868.6 538.2,866.9 540,865.3 541.7,863.7 543.5,862.1 545.2,860.6 547,859.1 548.7,857.6 550.5,856.1 552.2,854.6 554,853.2 555.7,851.7 557.5,850.3 559.2,848.9 561,847.5 562.7,846.2 564.5,844.8 566.2,843.5 568,842.2 569.7,840.9 571.5,839.6 573.3,838.4 575,837.1 576.8,835.9 578.5,834.7 580.3,833.5 582,832.3 583.8,831.1 585.5,829.9 587.3,828.8 589,827.6 590.8,826.5 592.5,825.4 594.3,824.3 596,823.2 597.8,822.1 599.5,821.1 601.3,820 603,819 604.8,818 606.6,817 608.3,816 610.1,815 611.8,814 613.6,813.1 615.3,812.1 617.1,811.2 618.8,810.3 620.6,809.3 622.3,808.4 624.1,807.6 625.8,806.7 627.6,805.8 629.3,805 631.1,804.1 632.8,803.3 634.6,802.5 636.4,801.7 638.1,800.9 639.9,800.1 641.6,799.3 643.4,798.6 645.1,797.8 646.9,797.1 648.6,796.4 650.4,795.7 652.1,795 653.9,794.3 655.6,793.6 657.4,792.9 659.1,792.3 660.9,791.6 662.6,791 664.4,790.4 666.2,789.8 667.9,789.2 669.7,788.6 671.4,788 673.2,787.5 674.9,786.9 676.7,786.4 678.4,785.9 680.2,785.4 681.9,784.9 683.7,784.4 685.4,783.9 687.2,783.4 688.9,783 690.7,782.5 692.4,782.1 694.2,781.7 695.9,781.3 697.7,780.9 699.5,780.5 701.2,780.1 703,779.7 704.7,779.4 706.5,779.1 708.2,778.7 710,778.4 711.7,778.1 713.5,777.8 715.2,777.6 717,777.3 718.7,777 720.5,776.8 722.2,776.6 724,776.3 725.7,776.1 727.5,775.9 729.2,775.8 731,775.6 732.8,775.4 734.5,775.3 736.3,775.1 738,775 739.8,774.9 741.5,774.8 743.3,774.7 745,774.7 746.8,774.6 748.5,774.5 750.3,774.5 752,774.5 753.8,774.5 755.5,774.5 757.3,774.5 759,774.5 760.8,774.5 762.6,774.6 764.3,774.7 766.1,774.7 767.8,774.8 769.6,774.9 771.3,775 773.1,775.2 774.8,775.3 776.6,775.5 778.3,775.6 780.1,775.8 781.8,776 783.6,776.2 785.3,776.4 787.1,776.6 788.8,776.9 790.6,777.1 792.3,777.4 794.1,777.7 795.9,778 797.6,778.3 799.4,778.6 801.1,779 802.9,779.3 804.6,779.7 806.4,780.1 808.1,780.4 809.9,780.9 811.6,781.3 813.4,781.7 815.1,782.2 816.9,782.6 818.6,783.1 820.4,783.6 822.1,784.1 823.9,784.6 825.7,785.2 827.4,785.7 829.2,786.3 830.9,786.9 832.7,787.5 834.4,788.1 836.2,788.8 837.9,789.4 839.7,790.1 841.4,790.8 843.2,791.5 844.9,792.2 846.7,792.9 848.4,793.7 850.2,794.5 851.9,795.3 853.7,796.1 855.4,796.9 857.2,797.8 859,798.7 860.7,799.6 862.5,800.5 864.2,801.4 866,802.4 867.7,803.4 869.5,804.4 871.2,805.5 873,806.5 874.7,807.6 876.5,808.8 878.2,809.9 880,811.1 881.7,812.3 883.5,813.5 885.2,814.8 887,816.1 888.8,817.5 890.5,818.9 892.3,820.3 894,821.8 895.8,823.3 897.5,824.9 899.3,826.5 901,828.2 902.8,830 904.5,831.8 906.3,833.7 908,835.6 909.8,837.7 911.5,839.8 913.3,842 915,844.3 916.8,846.8 918.6,849.4 920.3,852.1 922.1,855 923.8,858.2 925.6,861.5 927.3,865.1 929.1,869.1 930.8,873.4 932.6,878.2 934.3,883.7 936.1,890 937.1,894.3 937.6,896.3 937.8,897.5 938,898.3 938.4,900.5 938.9,902.8 939.3,905.2 939.6,906.7 939.8,907.8 940.2,910.6 940.6,913.5 941.1,916.8 941.3,918.8 941.5,920.3 941.9,924.2 942.4,928.5 942.8,933.5 943.1,936.7 943.3,939.1 943.7,945.8 944.1,953.9 945.9,957.4 947.6,954.7 948.1,946.8 948.3,942.8 948.5,940.3 949,934.9 949.4,930.2 949.8,926 950.1,923.8 950.3,922.4 950.7,919 951.2,916 951.6,913.2 951.9,911.7 952,910.7 952.5,908.3 952.9,906.1 953.3,904 953.6,902.8 953.8,902 954.2,900.2 954.7,898.4 955.4,895.8 957.1,890.1 958.9,885.3 960.6,881.2 962.4,877.6 964.1,874.4 965.9,871.5 967.6,868.9 969.4,866.6 971.1,864.4 972.9,862.5 974.6,860.6 976.4,858.9 978.1,857.4 979.9,855.9 981.6,854.6 983.4,853.3 985.2,852.1 986.9,851 988.7,849.9 990.4,848.9 992.2,848 993.9,847.1 995.7,846.3 997.4,845.5 999.2,844.8 1000.9,844.1 1002.7,843.4 1004.4,842.8 1006.2,842.2 1007.9,841.6 1009.7,841.1 1011.4,840.5 1013.2,840.1 1015,839.6 1016.7,839.2 1018.5,838.7 1020.2,838.4 1022,838 1023.7,837.6 1025.5,837.3 1027.2,837 1029,836.7 1030.7,836.4 1032.5,836.1 1034.2,835.9 1036,835.6 1037.7,835.4 1039.5,835.2 1041.2,835 1043,834.8 1044.8,834.6 1046.5,834.4 1048.3,834.3 1050,834.1 1051.8,834 1053.5,833.9 1055.3,833.8 1057,833.7 1058.8,833.6 1060.5,833.5 1062.3,833.4 1064,833.3 1065.8,833.3 1067.5,833.2 1069.3,833.2 1071,833.2 1072.8,833.1 1074.5,833.1 1076.3,833.1 1078.1,833.1 1079.8,833.1 1081.6,833.2 1083.3,833.2 1085.1,833.2 1086.8,833.3 1088.6,833.3 1090.3,833.4 1092.1,833.5 1093.8,833.6 1095.6,833.7 1097.3,833.8 1099.1,833.9 1100.8,834 1102.6,834.1 1104.3,834.3 1106.1,834.4 1107.8,834.6 1109.6,834.8 1111.4,835 1113.1,835.2 1114.9,835.4 1116.6,835.6 1118.4,835.9 1120.1,836.1 1121.9,836.4 1123.6,836.7 1125.4,837 1127.1,837.3 1128.9,837.6 1130.6,838 1132.4,838.4 1134.1,838.7 1135.9,839.2 1137.6,839.6 1139.4,840.1 1141.2,840.5 1142.9,841.1 1144.7,841.6 1146.4,842.2 1148.2,842.8 1149.9,843.4 1151.7,844.1 1153.4,844.8 1155.2,845.5 1156.9,846.3 1158.7,847.1 1160.4,848 1162.2,848.9 1163.9,849.9 1165.7,851 1167.4,852.1 1169.2,853.3 1171,854.6 1172.7,855.9 1174.5,857.4 1176.2,858.9 1178,860.6 1179.7,862.5 1181.5,864.4 1183.2,866.6 1185,868.9 1186.7,871.5 1188.5,874.4 1190.2,877.6 1192,881.2 1193.7,885.3 1195.5,890.1 1197.2,895.8 1197.9,898.4 1198.4,900.2 1198.8,902 1199,902.8 1199.3,904 1199.7,906.1 1200.1,908.3 1200.6,910.7 1200.7,911.7 1201,913.2 1201.4,916 1201.9,919 1202.3,922.4 1202.5,923.8 1202.8,926 1203.2,930.2 1203.6,934.9 1204.1,940.3 1204.3,942.8 1204.5,946.8 1205,954.7 1206.7,957.4 1208.5,953.9 1208.9,945.8 1209.3,939.1 1209.5,936.7 1209.8,933.5 1210.2,928.5 1210.7,924.2 1211.1,920.3 1211.3,918.8 1211.5,916.8 1212,913.5 1212.4,910.6 1212.8,907.8 1213,906.7 1213.3,905.2 1213.7,902.8 1214.2,900.5 1214.6,898.3 1214.8,897.5 1215,896.3 1215.5,894.3 1216.5,890 1218.3,883.7 1220,878.2 1221.8,873.4 1223.5,869.1 1225.3,865.1 1227,861.5 1228.8,858.2 1230.5,855 1232.3,852.1 1234,849.4 1235.8,846.8 1237.6,844.3 1239.3,842 1241.1,839.8 1242.8,837.7 1244.6,835.6 1246.3,833.7 1248.1,831.8 1249.8,830 1251.6,828.2 1253.3,826.5 1255.1,824.9 1256.8,823.3 1258.6,821.8 1260.3,820.3 1262.1,818.9 1263.8,817.5 1265.6,816.1 1267.4,814.8 1269.1,813.5 1270.9,812.3 1272.6,811.1 1274.4,809.9 1276.1,808.8 1277.9,807.6 1279.6,806.5 1281.4,805.5 1283.1,804.4 1284.9,803.4 1286.6,802.4 1288.4,801.4 1290.1,800.5 1291.9,799.6 1293.6,798.7 1295.4,797.8 1297.1,796.9 1298.9,796.1 1300.7,795.3 1302.4,794.5 1304.2,793.7 1305.9,792.9 1307.7,792.2 1309.4,791.5 1311.2,790.8 1312.9,790.1 1314.7,789.4 1316.4,788.8 1318.2,788.1 1319.9,787.5 1321.7,786.9 1323.4,786.3 1325.2,785.7 1326.9,785.2 1328.7,784.6 1330.5,784.1 1332.2,783.6 1334,783.1 1335.7,782.6 1337.5,782.2 1339.2,781.7 1341,781.3 1342.7,780.9 1344.5,780.4 1346.2,780.1 1348,779.7 1349.7,779.3 1351.5,779 1353.2,778.6 1355,778.3 1356.7,778 1358.5,777.7 1360.2,777.4 1362,777.1 1363.8,776.9 1365.5,776.6 1367.3,776.4 1369,776.2 1370.8,776 1372.5,775.8 1374.3,775.6 1376,775.5 1377.8,775.3 1379.5,775.2 1381.3,775 1383,774.9 1384.8,774.8 1386.5,774.7 1388.3,774.7 1390,774.6 1391.8,774.5" stroke="#77AC30" stroke-width="7.2"/>
<path d="M129.8,780.8 131.6,780.4 133.3,779.9 135.1,779.5 136.8,779 138.6,778.6 140.3,778.2 142.1,777.9 143.8,777.5 145.6,777.2 147.3,776.9 149.1,776.6 150.8,776.3 152.6,776 154.3,775.8 156.1,775.6 157.8,775.3 159.6,775.1 161.4,775 163.1,774.8 164.9,774.6 166.6,774.5 168.4,774.4 170.1,774.3 171.9,774.2 173.6,774.1 175.4,774.1 177.1,774 178.9,774 180.6,774 182.4,774 184.1,774 185.9,774 187.6,774 189.4,774.1 191.1,774.1 192.9,774.2 194.7,774.3 196.4,774.4 198.2,774.5 199.9,774.7 201.7,774.8 203.4,775 205.2,775.2 206.9,775.4 208.7,775.6 210.4,775.8 212.2,776 213.9,776.2 215.7,776.5 217.4,776.8 219.2,777 220.9,777.3 222.7,777.6 224.4,777.9 226.2,778.3 228,778.6 229.7,779 231.5,779.3 233.2,779.7 235,780.1 236.7,780.5 238.5,780.9 240.2,781.4 242,781.8 243.7,782.3 245.5,782.7 247.2,783.2 249,783.7 250.7,784.2 252.5,784.7 254.2,785.3 256,785.8 257.8,786.3 259.5,786.9 261.3,787.5 263,788.1 264.8,788.7 266.5,789.3 268.3,789.9 270,790.6 271.8,791.2 273.5,791.9 275.3,792.6 277,793.3 278.8,794 280.5,794.7 282.3,795.4 284,796.2 285.8,796.9 287.6,797.7 289.3,798.5 291.1,799.3 292.8,800.1 294.6,800.9 296.3,801.7 298.1,802.6 299.8,803.5 301.6,804.3 303.3,805.2 305.1,806.1 306.8,807.1 308.6,808 310.3,809 312.1,809.9 313.8,810.9 315.6,811.9 317.3,812.9 319.1,814 320.9,815 322.6,816.1 324.4,817.1 326.1,818.2 327.9,819.4 329.6,820.5 331.4,821.7 333.1,822.8 334.9,824 336.6,825.2 338.4,826.5 340.1,827.7 341.9,829 343.6,830.3 345.4,831.6 347.1,832.9 348.9,834.3 350.6,835.7 352.4,837.1 354.2,838.5 355.9,840 357.7,841.5 359.4,843 361.2,844.6 362.9,846.2 364.7,847.8 366.4,849.5 368.2,851.1 369.9,852.9 371.7,854.6 373.4,856.4 375.2,858.3 376.9,860.2 378.7,862.1 380.4,864.1 382.2,866.1 384,868.2 385.7,870.4 387.5,872.6 389.2,874.9 391,877.2 392.7,879.7 394.5,882.2 396.2,884.7 398,887.4 399.7,890.2 401.5,893.1 403.2,896.1 405,899.2 406.7,902.4 408.5,905.8 410.2,909.4 412,913.1 413.8,917.1 415.5,921.2 417.3,925.6 419,930.3 420.8,935.3 422.5,940.7 424.3,946.5 426,952.8 427.8,959.6 429.5,967.3 431.3,975.8 433,985.4 434.8,996.5 436.5,1009.7 438.3,1025.7 439.8,1043.2 445.3,1043.2 450.8,1043.2 452.3,1025.7 454.1,1009.7 455.8,996.5 457.6,985.4 459.3,975.8 461.1,967.3 462.8,959.6 464.6,952.8 466.3,946.5 468.1,940.7 469.8,935.3 471.6,930.3 473.3,925.6 475.1,921.2 476.8,917.1 478.6,913.1 480.4,909.4 482.1,905.8 483.9,902.4 485.6,899.2 487.4,896.1 489.1,893.1 490.9,890.2 492.6,887.4 494.4,884.7 496.1,882.2 497.9,879.7 499.6,877.2 501.4,874.9 503.1,872.6 504.9,870.4 506.6,868.2 508.4,866.1 510.2,864.1 511.9,862.1 513.7,860.2 515.4,858.3 517.2,856.4 518.9,854.6 520.7,852.9 522.4,851.1 524.2,849.5 525.9,847.8 527.7,846.2 529.4,844.6 531.2,843 532.9,841.5 534.7,840 536.4,838.5 538.2,837.1 540,835.7 541.7,834.3 543.5,832.9 545.2,831.6 547,830.3 548.7,829 550.5,827.7 552.2,826.5 554,825.2 555.7,824 557.5,822.8 559.2,821.7 561,820.5 562.7,819.4 564.5,818.2 566.2,817.1 568,816.1 569.7,815 571.5,814 573.3,812.9 575,811.9 576.8,810.9 578.5,809.9 580.3,809 582,808 583.8,807.1 585.5,806.1 587.3,805.2 589,804.3 590.8,803.5 592.5,802.6 594.3,801.7 596,800.9 597.8,800.1 599.5,799.3 601.3,798.5 603,797.7 604.8,796.9 606.6,796.2 608.3,795.4 610.1,794.7 611.8,794 613.6,793.3 615.3,792.6 617.1,791.9 618.8,791.2 620.6,790.6 622.3,789.9 624.1,789.3 625.8,788.7 627.6,788.1 629.3,787.5 631.1,786.9 632.8,786.3 634.6,785.8 636.4,785.3 638.1,784.7 639.9,784.2 641.6,783.7 643.4,783.2 645.1,782.7 646.9,782.3 648.6,781.8 650.4,781.4 652.1,780.9 653.9,780.5 655.6,780.1 657.4,779.7 659.1,779.3 660.9,779 662.6,778.6 664.4,778.3 666.2,777.9 667.9,777.6 669.7,777.3 671.4,777 673.2,776.8 674.9,776.5 676.7,776.2 678.4,776 680.2,775.8 681.9,775.6 683.7,775.4 685.4,775.2 687.2,775 688.9,774.8 690.7,774.7 692.4,774.5 694.2,774.4 695.9,774.3 697.7,774.2 699.5,774.1 701.2,774.1 703,774 704.7,774 706.5,774 708.2,774 710,774 711.7,774 713.5,774 715.2,774.1 717,774.1 718.7,774.2 720.5,774.3 722.2,774.4 724,774.5 725.7,774.6 727.5,774.8 729.2,775 731,775.1 732.8,775.3 734.5,775.6 736.3,775.8 738,776 739.8,776.3 741.5,776.6 743.3,776.9 745,777.2 746.8,777.5 748.5,777.9 750.3,778.2 752,778.6 753.8,779 755.5,779.5 757.3,779.9 759,780.4 760.8,780.8 762.6,781.3 764.3,781.9 766.1,782.4 767.8,783 769.6,783.5 771.3,784.2 773.1,784.8 774.8,785.4 776.6,786.1 778.3,786.8 780.1,787.5 781.8,788.3 783.6,789.1 785.3,789.9 787.1,790.7 788.8,791.6 790.6,792.4 792.3,793.4 794.1,794.3 795.9,795.3 797.6,796.3 799.4,797.4 801.1,798.4 802.9,799.6 804.6,800.7 806.4,801.9 808.1,803.2 809.9,804.5 811.6,805.8 813.4,807.2 815.1,808.7 816.9,810.2 818.6,811.8 820.4,813.4 822.1,815.1 823.9,816.9 825.7,818.8 827.4,820.7 829.2,822.8 830.9,825 832.7,827.2 834.4,829.7 836.2,832.2 837.9,835 839.7,837.9 841.4,841 843.2,844.5 844.9,848.2 846.7,852.3 848.4,856.8 850.2,861.9 851.9,867.8 853.7,874.7 854.1,876.6 854.6,878.6 855,880.8 855.4,883 855.9,885.4 856.3,888 856.8,890.8 857.2,893.7 857.6,896.9 858.1,900.5 858.5,904.3 859,908.7 859.4,913.6 859.8,919.2 860.3,925.9 860.7,934 862.5,939.1 864.2,934.7 864.7,926.8 865.1,920.3 865.5,914.8 866,910.1 866.4,906 866.8,902.3 867.3,898.9 867.7,895.9 868.2,893.1 868.6,890.5 869,888.2 869.5,885.9 869.9,883.8 870.3,881.9 870.8,880 871.2,878.3 873,872.1 874.7,867 876.5,862.6 878.2,858.8 880,855.4 881.7,852.4 883.5,849.7 885.2,847.3 887,845.1 888.8,843.1 890.5,841.2 892.3,839.5 894,837.9 895.8,836.5 897.5,835.1 899.3,833.8 901,832.7 902.8,831.6 904.5,830.6 906.3,829.6 908,828.7 909.8,827.9 911.5,827.1 913.3,826.4 915,825.7 916.8,825.1 918.6,824.5 920.3,824 922.1,823.5 923.8,823 925.6,822.6 927.3,822.2 929.1,821.8 930.8,821.5 932.6,821.1 934.3,820.8 936.1,820.6 937.8,820.3 939.6,820.1 941.3,819.9 943.1,819.7 944.8,819.6 946.6,819.5 948.3,819.3 950.1,819.2 951.9,819.2 953.6,819.1 955.4,819 957.1,819 958.9,819 960.6,819 962.4,819 964.1,819 965.9,819 967.6,819.1 969.4,819.1 971.1,819.2 972.9,819.2 974.6,819.3 976.4,819.4 978.1,819.5 979.9,819.6 981.6,819.7 983.4,819.8 985.2,820 986.9,820.1 988.7,820.2 990.4,820.4 992.2,820.5 993.9,820.7 995.7,820.8 997.4,821 999.2,821.2 1000.9,821.3 1002.7,821.5 1004.4,821.7 1006.2,821.9 1007.9,822 1009.7,822.2 1011.4,822.4 1013.2,822.6 1015,822.7 1016.7,822.9 1018.5,823.1 1020.2,823.3 1022,823.4 1023.7,823.6 1025.5,823.8 1027.2,823.9 1029,824.1 1030.7,824.3 1032.5,824.4 1034.2,824.6 1036,824.7 1037.7,824.9 1039.5,825 1041.2,825.2 1043,825.3 1044.8,825.4 1046.5,825.6 1048.3,825.7 1050,825.8 1051.8,825.9 1053.5,826 1055.3,826.1 1057,826.2 1058.8,826.2 1060.5,826.3 1062.3,826.4 1064,826.4 1065.8,826.5 1067.5,826.5 1069.3,826.6 1071,826.6 1072.8,826.6 1074.5,826.6 1076.3,826.6 1078.1,826.6 1079.8,826.6 1081.6,826.6 1083.3,826.6 1085.1,826.5 1086.8,826.5 1088.6,826.4 1090.3,826.4 1092.1,826.3 1093.8,826.2 1095.6,826.2 1097.3,826.1 1099.1,826 1100.8,825.9 1102.6,825.8 1104.3,825.7 1106.1,825.6 1107.8,825.4 1109.6,825.3 1111.4,825.2 1113.1,825 1114.9,824.9 1116.6,824.7 1118.4,824.6 1120.1,824.4 1121.9,824.3 1123.6,824.1 1125.4,823.9 1127.1,823.8 1128.9,823.6 1130.6,823.4 1132.4,823.3 1134.1,823.1 1135.9,822.9 1137.6,822.7 1139.4,822.6 1141.2,822.4 1142.9,822.2 1144.7,822 1146.4,821.9 1148.2,821.7 1149.9,821.5 1151.7,821.3 1153.4,821.2 1155.2,821 1156.9,820.8 1158.7,820.7 1160.4,820.5 1162.2,820.4 1163.9,820.2 1165.7,820.1 1167.4,820 1169.2,819.8 1171,819.7 1172.7,819.6 1174.5,819.5 1176.2,819.4 1178,819.3 1179.7,819.2 1181.5,819.2 1183.2,819.1 1185,819.1 1186.7,819 1188.5,819 1190.2,819 1192,819 1193.7,819 1195.5,819 1197.2,819 1199,819.1 1200.7,819.2 1202.5,819.2 1204.3,819.3 1206,819.5 1207.8,819.6 1209.5,819.7 1211.3,819.9 1213,820.1 1214.8,820.3 1216.5,820.6 1218.3,820.8 1220,821.1 1221.8,821.5 1223.5,821.8 1225.3,822.2 1227,822.6 1228.8,823 1230.5,823.5 1232.3,824 1234,824.5 1235.8,825.1 1237.6,825.7 1239.3,826.4 1241.1,827.1 1242.8,827.9 1244.6,828.7 1246.3,829.6 1248.1,830.6 1249.8,831.6 1251.6,832.7 1253.3,833.8 1255.1,835.1 1256.8,836.5 1258.6,837.9 1260.3,839.5 1262.1,841.2 1263.8,843.1 1265.6,845.1 1267.4,847.3 1269.1,849.7 1270.9,852.4 1272.6,855.4 1274.4,858.8 1276.1,862.6 1277.9,867 1279.6,872.1 1281.4,878.3 1281.8,880 1282.3,881.9 1282.7,883.8 1283.1,885.9 1283.6,888.2 1284,890.5 1284.4,893.1 1284.9,895.9 1285.3,898.9 1285.8,902.3 1286.2,906 1286.6,910.1 1287.1,914.8 1287.5,920.3 1287.9,926.8 1288.4,934.7 1290.1,939.1 1291.9,934 1292.3,925.9 1292.8,919.2 1293.2,913.6 1293.6,908.7 1294.1,904.3 1294.5,900.5 1295,896.9 1295.4,893.7 1295.8,890.8 1296.3,888 1296.7,885.4 1297.1,883 1297.6,880.8 1298,878.6 1298.5,876.6 1298.9,874.7 1300.7,867.8 1302.4,861.9 1304.2,856.8 1305.9,852.3 1307.7,848.2 1309.4,844.5 1311.2,841 1312.9,837.9 1314.7,835 1316.4,832.2 1318.2,829.7 1319.9,827.2 1321.7,825 1323.4,822.8 1325.2,820.7 1326.9,818.8 1328.7,816.9 1330.5,815.1 1332.2,813.4 1334,811.8 1335.7,810.2 1337.5,808.7 1339.2,807.2 1341,805.8 1342.7,804.5 1344.5,803.2 1346.2,801.9 1348,800.7 1349.7,799.6 1351.5,798.4 1353.2,797.4 1355,796.3 1356.7,795.3 1358.5,794.3 1360.2,793.4 1362,792.4 1363.8,791.6 1365.5,790.7 1367.3,789.9 1369,789.1 1370.8,788.3 1372.5,787.5 1374.3,786.8 1376,786.1 1377.8,785.4 1379.5,784.8 1381.3,784.2 1383,783.5 1384.8,783 1386.5,782.4 1388.3,781.9 1390,781.3 1391.8,780.8" stroke="#4DBEEE" stroke-width="7.2"/>
</g>
<path d="M235.0,680.0v13M235.0,1011.7v-13M410.2,680.0v13M410.2,1011.7v-13M585.5,680.0v13M585.5,1011.7v-13M760.8,680.0v13M760.8,1011.7v-13M936.1,680.0v13M936.1,1011.7v-13M1111.4,680.0v13M1111.4,1011.7v-13M1286.6,680.0v13M1286.6,1011.7v-13M129.8,721.5h13M1391.8,721.5h-13M129.8,804.4h13M1391.8,804.4h-13M129.8,887.3h13M1391.8,887.3h-13M129.8,970.2h13M1391.8,970.2h-13" stroke="#222" stroke-width="1.8" fill="none"/>
<rect x="129.8" y="680.0" width="1262.0" height="331.7" fill="none" stroke="#1a1a1a" stroke-width="2.3"/>
<path d="M447.9,684.6V1012.2" stroke="#000" stroke-width="7.8" stroke-dasharray="29.3 30.2" fill="none"/>
<path d="M1074.1,684.6V1012.2" stroke="#000" stroke-width="7.8" stroke-dasharray="29.3 30.2" fill="none"/>
<text x="235.0" y="1067.7" text-anchor="middle" font-family='"Liberation Sans", sans-serif' font-size="38.6" fill="#222">-150</text>
<text x="410.2" y="1067.7" text-anchor="middle" font-family='"Liberation Sans", sans-serif' font-size="38.6" fill="#222">-100</text>
<text x="585.5" y="1067.7" text-anchor="middle" font-family='"Liberation Sans", sans-serif' font-size="38.6" fill="#222">-50</text>
<text x="760.8" y="1067.7" text-anchor="middle" font-family='"Liberation Sans", sans-serif' font-size="38.6" fill="#222">0</text>
<text x="936.1" y="1067.7" text-anchor="middle" font-family='"Liberation Sans", sans-serif' font-size="38.6" fill="#222">50</text>
<text x="1111.4" y="1067.7" text-anchor="middle" font-family='"Liberation Sans", sans-serif' font-size="38.6" fill="#222">100</text>
<text x="1286.6" y="1067.7" text-anchor="middle" font-family='"Liberation Sans", sans-serif' font-size="38.6" fill="#222">150</text>
<text x="114.5" y="737.3" text-anchor="end" font-family='"Liberation Sans", sans-serif' font-size="38.6" fill="#222">20</text>
<text x="114.5" y="820.2" text-anchor="end" font-family='"Liberation Sans", sans-serif' font-size="38.6" fill="#222">0</text>
<text x="114.5" y="903.1" text-anchor="end" font-family='"Liberation Sans", sans-serif' font-size="38.6" fill="#222">-20</text>
<text x="114.5" y="986.0" text-anchor="end" font-family='"Liberation Sans", sans-serif' font-size="38.6" fill="#222">-40</text>
<text x="761" y="1123.7" text-anchor="middle" font-family='"Liberation Sans", sans-serif' font-size="42.8" fill="#222">Azimuth (º)</text>
<text transform="translate(36.3,848.4) rotate(-90)" text-anchor="middle" font-family='"Liberation Sans", sans-serif' font-size="42.8" fill="#222">Gain (dBi)</text>
<path d="M448,1081.0V1012.9M439.5,1028.4L448,1012.4L456.5,1028.4" stroke="#000" stroke-width="2.8" fill="none"/>
<rect x="297" y="1081.2" width="305.5" height="54" fill="#fff" stroke="#000" stroke-width="2.9"/>
<text x="320.5" y="1121.5" font-family='"Liberation Serif", serif' font-size="41.1" fill="#000" stroke="#000" stroke-width="0.4">Ref. 2 direction</text>
<path d="M1073.7,1080.0V1012.3M1065.2,1027.8L1073.7,1011.8L1082.2,1027.8" stroke="#000" stroke-width="2.8" fill="none"/>
<rect x="923.3" y="1080.1" width="304.7" height="54" fill="#fff" stroke="#000" stroke-width="2.9"/>
<text x="946" y="1119.0" font-family='"Liberation Serif", serif' font-size="41.1" fill="#000" stroke="#000" stroke-width="0.4">Ref. 1 direction</text>
</svg>
</body></html>
